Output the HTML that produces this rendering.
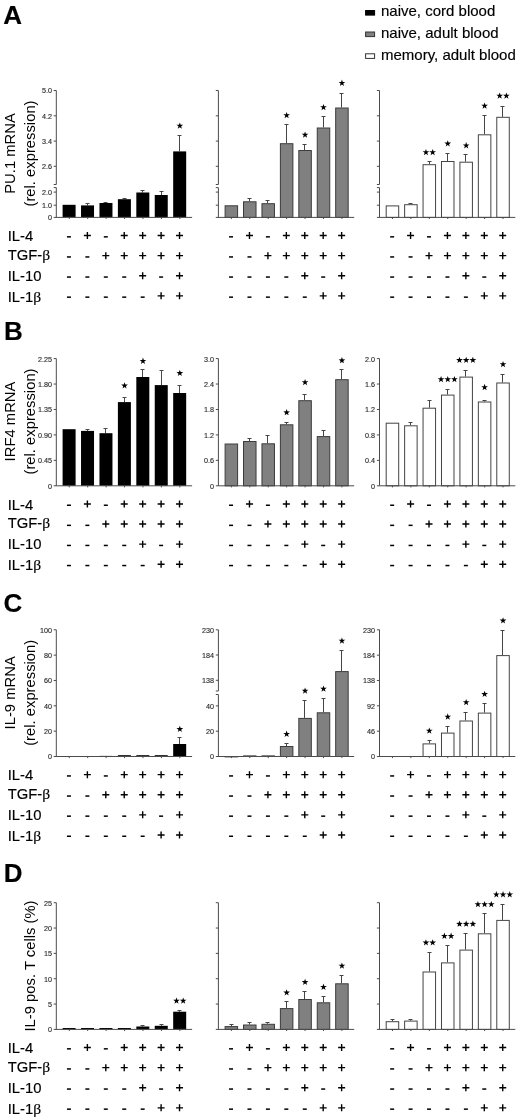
<!DOCTYPE html>
<html><head><meta charset="utf-8"><title>Figure</title>
<style>
html,body{margin:0;padding:0;background:#fff;}
body{width:520px;height:1120px;overflow:hidden;}
svg{display:block;font-family:"Liberation Sans",sans-serif;}
text{stroke:#000;stroke-width:0.16px;}
text.r{stroke:none;}
text.t{stroke:#333;stroke-width:0.15px;}
</style></head><body>
<svg width="520" height="1120" viewBox="0 0 520 1120">
<defs><filter id="soft" x="0" y="0" width="520" height="1120" filterUnits="userSpaceOnUse"><feGaussianBlur stdDeviation="0.38"/></filter></defs>
<rect width="520" height="1120" fill="#fff"/>
<g filter="url(#soft)">
<rect x="365.6" y="10.50" width="9" height="4.6" fill="#000" stroke="#000" stroke-width="1"/>
<rect x="365.6" y="32.00" width="9" height="4.6" fill="#808080" stroke="#333" stroke-width="1"/>
<rect x="365.6" y="53.80" width="9" height="4.6" fill="#fff" stroke="#333" stroke-width="1"/>
<text x="381" y="16.2" font-size="15" fill="#000">naive, cord blood</text>
<text x="381" y="37.7" font-size="15" fill="#000">naive, adult blood</text>
<text x="381" y="59.5" font-size="15" fill="#000">memory, adult blood</text>
<text x="3.2" y="23.6" font-size="26" font-weight="bold" fill="#000">A</text>
<rect x="62.60" y="204.80" width="13.00" height="12.60" fill="#000"/>
<path d="M87.50 205.40V203.50M85.50 203.50H89.50" stroke="#4a4a4a" stroke-width="1" fill="none"/>
<rect x="81.03" y="205.40" width="13.00" height="12.00" fill="#000"/>
<path d="M105.50 203.00V202.50M103.50 202.50H107.50" stroke="#4a4a4a" stroke-width="1" fill="none"/>
<rect x="99.46" y="203.00" width="13.00" height="14.40" fill="#000"/>
<path d="M124.50 199.20V198.50M122.50 198.50H126.50" stroke="#4a4a4a" stroke-width="1" fill="none"/>
<rect x="117.89" y="199.20" width="13.00" height="18.20" fill="#000"/>
<path d="M142.50 192.50V190.50M140.50 190.50H144.50" stroke="#4a4a4a" stroke-width="1" fill="none"/>
<rect x="136.32" y="192.50" width="13.00" height="24.90" fill="#000"/>
<path d="M161.50 195.00V191.50M159.50 191.50H163.50" stroke="#4a4a4a" stroke-width="1" fill="none"/>
<rect x="154.75" y="195.00" width="13.00" height="22.40" fill="#000"/>
<path d="M179.50 151.40V135.50M177.50 135.50H181.50" stroke="#4a4a4a" stroke-width="1" fill="none"/>
<rect x="173.18" y="151.40" width="13.00" height="66.00" fill="#000"/>
<path d="M56.30 90.50V184.50" stroke="#4c4c4c" stroke-width="1" fill="none"/>
<path d="M56.30 187.60V217.40" stroke="#4c4c4c" stroke-width="1" fill="none"/>
<path d="M53.70 217.40H192.10" stroke="#4c4c4c" stroke-width="1" fill="none"/>
<path d="M53.70 90.50H56.30" stroke="#4c4c4c" stroke-width="1" fill="none"/>
<path d="M53.70 115.80H56.30" stroke="#4c4c4c" stroke-width="1" fill="none"/>
<path d="M53.70 141.10H56.30" stroke="#4c4c4c" stroke-width="1" fill="none"/>
<path d="M53.70 166.30H56.30" stroke="#4c4c4c" stroke-width="1" fill="none"/>
<path d="M53.70 184.50H56.30" stroke="#4c4c4c" stroke-width="1" fill="none"/>
<path d="M53.70 187.60H56.30" stroke="#4c4c4c" stroke-width="1" fill="none"/>
<path d="M53.70 192.10H56.30" stroke="#4c4c4c" stroke-width="1" fill="none"/>
<path d="M53.70 205.20H56.30" stroke="#4c4c4c" stroke-width="1" fill="none"/>
<path d="M69.25 217.40v1.6" stroke="#4c4c4c" stroke-width="1" fill="none"/>
<path d="M87.68 217.40v1.6" stroke="#4c4c4c" stroke-width="1" fill="none"/>
<path d="M106.11 217.40v1.6" stroke="#4c4c4c" stroke-width="1" fill="none"/>
<path d="M124.54 217.40v1.6" stroke="#4c4c4c" stroke-width="1" fill="none"/>
<path d="M142.97 217.40v1.6" stroke="#4c4c4c" stroke-width="1" fill="none"/>
<path d="M161.40 217.40v1.6" stroke="#4c4c4c" stroke-width="1" fill="none"/>
<path d="M179.83 217.40v1.6" stroke="#4c4c4c" stroke-width="1" fill="none"/>
<text x="51.90" y="93.45" font-size="7.2" text-anchor="end" fill="#2a2a2a" class="t">5.0</text>
<text x="51.90" y="118.75" font-size="7.2" text-anchor="end" fill="#2a2a2a" class="t">4.2</text>
<text x="51.90" y="144.05" font-size="7.2" text-anchor="end" fill="#2a2a2a" class="t">3.4</text>
<text x="51.90" y="169.25" font-size="7.2" text-anchor="end" fill="#2a2a2a" class="t">2.6</text>
<text x="51.90" y="195.05" font-size="7.2" text-anchor="end" fill="#2a2a2a" class="t">2.0</text>
<text x="51.90" y="208.15" font-size="7.2" text-anchor="end" fill="#2a2a2a" class="t">1.0</text>
<text x="51.90" y="220.35" font-size="7.2" text-anchor="end" fill="#2a2a2a" class="t">0</text>
<polygon points="179.83,122.40 180.65,124.77 183.16,124.82 181.16,126.33 181.89,128.73 179.83,127.30 177.77,128.73 178.50,126.33 176.50,124.82 179.01,124.77" fill="#000"/>
<rect x="225.10" y="205.80" width="12.50" height="11.60" fill="#808080" stroke="#3c3c3c" stroke-width="1"/>
<path d="M249.50 201.30V198.50M247.50 198.50H251.50" stroke="#444" stroke-width="1" fill="none"/>
<rect x="243.53" y="201.80" width="12.50" height="15.60" fill="#808080" stroke="#3c3c3c" stroke-width="1"/>
<path d="M267.50 203.20V200.50M265.50 200.50H269.50" stroke="#444" stroke-width="1" fill="none"/>
<rect x="261.96" y="203.70" width="12.50" height="13.70" fill="#808080" stroke="#3c3c3c" stroke-width="1"/>
<path d="M286.50 143.20V124.50M284.50 124.50H288.50" stroke="#444" stroke-width="1" fill="none"/>
<rect x="280.39" y="143.70" width="12.50" height="73.70" fill="#808080" stroke="#3c3c3c" stroke-width="1"/>
<path d="M304.50 150.00V144.50M302.50 144.50H306.50" stroke="#444" stroke-width="1" fill="none"/>
<rect x="298.82" y="150.50" width="12.50" height="66.90" fill="#808080" stroke="#3c3c3c" stroke-width="1"/>
<path d="M323.50 127.50V116.50M321.50 116.50H325.50" stroke="#444" stroke-width="1" fill="none"/>
<rect x="317.25" y="128.00" width="12.50" height="89.40" fill="#808080" stroke="#3c3c3c" stroke-width="1"/>
<path d="M341.50 107.50V93.50M339.50 93.50H343.50" stroke="#444" stroke-width="1" fill="none"/>
<rect x="335.68" y="108.00" width="12.50" height="109.40" fill="#808080" stroke="#3c3c3c" stroke-width="1"/>
<path d="M218.40 90.50V184.50" stroke="#4c4c4c" stroke-width="1" fill="none"/>
<path d="M218.40 187.60V217.40" stroke="#4c4c4c" stroke-width="1" fill="none"/>
<path d="M215.80 217.40H354.20" stroke="#4c4c4c" stroke-width="1" fill="none"/>
<path d="M215.80 90.50H218.40" stroke="#4c4c4c" stroke-width="1" fill="none"/>
<path d="M215.80 115.80H218.40" stroke="#4c4c4c" stroke-width="1" fill="none"/>
<path d="M215.80 141.10H218.40" stroke="#4c4c4c" stroke-width="1" fill="none"/>
<path d="M215.80 166.30H218.40" stroke="#4c4c4c" stroke-width="1" fill="none"/>
<path d="M215.80 184.50H218.40" stroke="#4c4c4c" stroke-width="1" fill="none"/>
<path d="M215.80 187.60H218.40" stroke="#4c4c4c" stroke-width="1" fill="none"/>
<path d="M215.80 192.10H218.40" stroke="#4c4c4c" stroke-width="1" fill="none"/>
<path d="M215.80 205.20H218.40" stroke="#4c4c4c" stroke-width="1" fill="none"/>
<path d="M231.35 217.40v1.6" stroke="#4c4c4c" stroke-width="1" fill="none"/>
<path d="M249.78 217.40v1.6" stroke="#4c4c4c" stroke-width="1" fill="none"/>
<path d="M268.21 217.40v1.6" stroke="#4c4c4c" stroke-width="1" fill="none"/>
<path d="M286.64 217.40v1.6" stroke="#4c4c4c" stroke-width="1" fill="none"/>
<path d="M305.07 217.40v1.6" stroke="#4c4c4c" stroke-width="1" fill="none"/>
<path d="M323.50 217.40v1.6" stroke="#4c4c4c" stroke-width="1" fill="none"/>
<path d="M341.93 217.40v1.6" stroke="#4c4c4c" stroke-width="1" fill="none"/>
<polygon points="286.64,111.90 287.46,114.27 289.97,114.32 287.97,115.83 288.70,118.23 286.64,116.80 284.58,118.23 285.31,115.83 283.31,114.32 285.82,114.27" fill="#000"/>
<polygon points="305.07,131.40 305.89,133.77 308.40,133.82 306.40,135.33 307.13,137.73 305.07,136.30 303.01,137.73 303.74,135.33 301.74,133.82 304.25,133.77" fill="#000"/>
<polygon points="323.50,103.90 324.32,106.27 326.83,106.32 324.83,107.83 325.56,110.23 323.50,108.80 321.44,110.23 322.17,107.83 320.17,106.32 322.68,106.27" fill="#000"/>
<polygon points="341.93,79.60 342.75,81.97 345.26,82.02 343.26,83.53 343.99,85.93 341.93,84.50 339.87,85.93 340.60,83.53 338.60,82.02 341.11,81.97" fill="#000"/>
<rect x="386.20" y="205.90" width="12.50" height="11.50" fill="#ffffff" stroke="#444444" stroke-width="1"/>
<path d="M410.50 204.20V203.50M408.50 203.50H412.50" stroke="#444" stroke-width="1" fill="none"/>
<rect x="404.63" y="204.70" width="12.50" height="12.70" fill="#ffffff" stroke="#444444" stroke-width="1"/>
<path d="M429.50 164.20V161.50M427.50 161.50H431.50" stroke="#444" stroke-width="1" fill="none"/>
<rect x="423.06" y="164.70" width="12.50" height="52.70" fill="#ffffff" stroke="#444444" stroke-width="1"/>
<path d="M447.50 161.00V153.50M445.50 153.50H449.50" stroke="#444" stroke-width="1" fill="none"/>
<rect x="441.49" y="161.50" width="12.50" height="55.90" fill="#ffffff" stroke="#444444" stroke-width="1"/>
<path d="M465.50 161.70V154.50M463.50 154.50H467.50" stroke="#444" stroke-width="1" fill="none"/>
<rect x="459.92" y="162.20" width="12.50" height="55.20" fill="#ffffff" stroke="#444444" stroke-width="1"/>
<path d="M484.50 134.30V115.50M482.50 115.50H486.50" stroke="#444" stroke-width="1" fill="none"/>
<rect x="478.35" y="134.80" width="12.50" height="82.60" fill="#ffffff" stroke="#444444" stroke-width="1"/>
<path d="M502.50 116.80V106.50M500.50 106.50H504.50" stroke="#444" stroke-width="1" fill="none"/>
<rect x="496.78" y="117.30" width="12.50" height="100.10" fill="#ffffff" stroke="#444444" stroke-width="1"/>
<path d="M379.50 90.50V184.50" stroke="#4c4c4c" stroke-width="1" fill="none"/>
<path d="M379.50 187.60V217.40" stroke="#4c4c4c" stroke-width="1" fill="none"/>
<path d="M376.90 217.40H515.30" stroke="#4c4c4c" stroke-width="1" fill="none"/>
<path d="M376.90 90.50H379.50" stroke="#4c4c4c" stroke-width="1" fill="none"/>
<path d="M376.90 115.80H379.50" stroke="#4c4c4c" stroke-width="1" fill="none"/>
<path d="M376.90 141.10H379.50" stroke="#4c4c4c" stroke-width="1" fill="none"/>
<path d="M376.90 166.30H379.50" stroke="#4c4c4c" stroke-width="1" fill="none"/>
<path d="M376.90 184.50H379.50" stroke="#4c4c4c" stroke-width="1" fill="none"/>
<path d="M376.90 187.60H379.50" stroke="#4c4c4c" stroke-width="1" fill="none"/>
<path d="M376.90 192.10H379.50" stroke="#4c4c4c" stroke-width="1" fill="none"/>
<path d="M376.90 205.20H379.50" stroke="#4c4c4c" stroke-width="1" fill="none"/>
<path d="M392.45 217.40v1.6" stroke="#4c4c4c" stroke-width="1" fill="none"/>
<path d="M410.88 217.40v1.6" stroke="#4c4c4c" stroke-width="1" fill="none"/>
<path d="M429.31 217.40v1.6" stroke="#4c4c4c" stroke-width="1" fill="none"/>
<path d="M447.74 217.40v1.6" stroke="#4c4c4c" stroke-width="1" fill="none"/>
<path d="M466.17 217.40v1.6" stroke="#4c4c4c" stroke-width="1" fill="none"/>
<path d="M484.60 217.40v1.6" stroke="#4c4c4c" stroke-width="1" fill="none"/>
<path d="M503.03 217.40v1.6" stroke="#4c4c4c" stroke-width="1" fill="none"/>
<polygon points="425.96,148.90 426.78,151.27 429.29,151.32 427.29,152.83 428.02,155.23 425.96,153.80 423.90,155.23 424.63,152.83 422.63,151.32 425.14,151.27" fill="#000"/>
<polygon points="432.66,148.90 433.48,151.27 435.99,151.32 433.99,152.83 434.72,155.23 432.66,153.80 430.60,155.23 431.33,152.83 429.33,151.32 431.84,151.27" fill="#000"/>
<polygon points="447.74,140.20 448.56,142.57 451.07,142.62 449.07,144.13 449.80,146.53 447.74,145.10 445.68,146.53 446.41,144.13 444.41,142.62 446.92,142.57" fill="#000"/>
<polygon points="466.17,142.10 466.99,144.47 469.50,144.52 467.50,146.03 468.23,148.43 466.17,147.00 464.11,148.43 464.84,146.03 462.84,144.52 465.35,144.47" fill="#000"/>
<polygon points="484.60,102.40 485.42,104.77 487.93,104.82 485.93,106.33 486.66,108.73 484.60,107.30 482.54,108.73 483.27,106.33 481.27,104.82 483.78,104.77" fill="#000"/>
<polygon points="499.68,92.40 500.50,94.77 503.01,94.82 501.01,96.33 501.74,98.73 499.68,97.30 497.62,98.73 498.35,96.33 496.35,94.82 498.86,94.77" fill="#000"/>
<polygon points="506.38,92.40 507.20,94.77 509.71,94.82 507.71,96.33 508.44,98.73 506.38,97.30 504.32,98.73 505.05,96.33 503.05,94.82 505.56,94.77" fill="#000"/>
<text x="7.7" y="241.10" font-size="14.8" fill="#000">IL-4</text>
<path d="M66.95 236.85H70.95" stroke="#000" stroke-width="1.5" fill="none"/>
<path d="M83.88 235.55H90.88M87.38 232.05V239.05" stroke="#000" stroke-width="1.4" fill="none"/>
<path d="M103.81 236.85H107.81" stroke="#000" stroke-width="1.5" fill="none"/>
<path d="M120.74 235.55H127.74M124.24 232.05V239.05" stroke="#000" stroke-width="1.4" fill="none"/>
<path d="M139.17 235.55H146.17M142.67 232.05V239.05" stroke="#000" stroke-width="1.4" fill="none"/>
<path d="M157.60 235.55H164.60M161.10 232.05V239.05" stroke="#000" stroke-width="1.4" fill="none"/>
<path d="M176.03 235.55H183.03M179.53 232.05V239.05" stroke="#000" stroke-width="1.4" fill="none"/>
<path d="M229.05 236.85H233.05" stroke="#000" stroke-width="1.5" fill="none"/>
<path d="M245.98 235.55H252.98M249.48 232.05V239.05" stroke="#000" stroke-width="1.4" fill="none"/>
<path d="M265.91 236.85H269.91" stroke="#000" stroke-width="1.5" fill="none"/>
<path d="M282.84 235.55H289.84M286.34 232.05V239.05" stroke="#000" stroke-width="1.4" fill="none"/>
<path d="M301.27 235.55H308.27M304.77 232.05V239.05" stroke="#000" stroke-width="1.4" fill="none"/>
<path d="M319.70 235.55H326.70M323.20 232.05V239.05" stroke="#000" stroke-width="1.4" fill="none"/>
<path d="M338.13 235.55H345.13M341.63 232.05V239.05" stroke="#000" stroke-width="1.4" fill="none"/>
<path d="M390.15 236.85H394.15" stroke="#000" stroke-width="1.5" fill="none"/>
<path d="M407.08 235.55H414.08M410.58 232.05V239.05" stroke="#000" stroke-width="1.4" fill="none"/>
<path d="M427.01 236.85H431.01" stroke="#000" stroke-width="1.5" fill="none"/>
<path d="M443.94 235.55H450.94M447.44 232.05V239.05" stroke="#000" stroke-width="1.4" fill="none"/>
<path d="M462.37 235.55H469.37M465.87 232.05V239.05" stroke="#000" stroke-width="1.4" fill="none"/>
<path d="M480.80 235.55H487.80M484.30 232.05V239.05" stroke="#000" stroke-width="1.4" fill="none"/>
<path d="M499.23 235.55H506.23M502.73 232.05V239.05" stroke="#000" stroke-width="1.4" fill="none"/>
<text x="7.7" y="260.00" font-size="14.8" fill="#000">TGF-<tspan font-family="Liberation Serif" font-size="15.5">β</tspan></text>
<path d="M66.95 256.95H70.95" stroke="#000" stroke-width="1.5" fill="none"/>
<path d="M85.38 256.95H89.38" stroke="#000" stroke-width="1.5" fill="none"/>
<path d="M102.31 255.65H109.31M105.81 252.15V259.15" stroke="#000" stroke-width="1.4" fill="none"/>
<path d="M120.74 255.65H127.74M124.24 252.15V259.15" stroke="#000" stroke-width="1.4" fill="none"/>
<path d="M139.17 255.65H146.17M142.67 252.15V259.15" stroke="#000" stroke-width="1.4" fill="none"/>
<path d="M157.60 255.65H164.60M161.10 252.15V259.15" stroke="#000" stroke-width="1.4" fill="none"/>
<path d="M176.03 255.65H183.03M179.53 252.15V259.15" stroke="#000" stroke-width="1.4" fill="none"/>
<path d="M229.05 256.95H233.05" stroke="#000" stroke-width="1.5" fill="none"/>
<path d="M247.48 256.95H251.48" stroke="#000" stroke-width="1.5" fill="none"/>
<path d="M264.41 255.65H271.41M267.91 252.15V259.15" stroke="#000" stroke-width="1.4" fill="none"/>
<path d="M282.84 255.65H289.84M286.34 252.15V259.15" stroke="#000" stroke-width="1.4" fill="none"/>
<path d="M301.27 255.65H308.27M304.77 252.15V259.15" stroke="#000" stroke-width="1.4" fill="none"/>
<path d="M319.70 255.65H326.70M323.20 252.15V259.15" stroke="#000" stroke-width="1.4" fill="none"/>
<path d="M338.13 255.65H345.13M341.63 252.15V259.15" stroke="#000" stroke-width="1.4" fill="none"/>
<path d="M390.15 256.95H394.15" stroke="#000" stroke-width="1.5" fill="none"/>
<path d="M408.58 256.95H412.58" stroke="#000" stroke-width="1.5" fill="none"/>
<path d="M425.51 255.65H432.51M429.01 252.15V259.15" stroke="#000" stroke-width="1.4" fill="none"/>
<path d="M443.94 255.65H450.94M447.44 252.15V259.15" stroke="#000" stroke-width="1.4" fill="none"/>
<path d="M462.37 255.65H469.37M465.87 252.15V259.15" stroke="#000" stroke-width="1.4" fill="none"/>
<path d="M480.80 255.65H487.80M484.30 252.15V259.15" stroke="#000" stroke-width="1.4" fill="none"/>
<path d="M499.23 255.65H506.23M502.73 252.15V259.15" stroke="#000" stroke-width="1.4" fill="none"/>
<text x="7.7" y="281.00" font-size="14.8" fill="#000">IL-10</text>
<path d="M66.95 277.05H70.95" stroke="#000" stroke-width="1.5" fill="none"/>
<path d="M85.38 277.05H89.38" stroke="#000" stroke-width="1.5" fill="none"/>
<path d="M103.81 277.05H107.81" stroke="#000" stroke-width="1.5" fill="none"/>
<path d="M122.24 277.05H126.24" stroke="#000" stroke-width="1.5" fill="none"/>
<path d="M139.17 275.75H146.17M142.67 272.25V279.25" stroke="#000" stroke-width="1.4" fill="none"/>
<path d="M159.10 277.05H163.10" stroke="#000" stroke-width="1.5" fill="none"/>
<path d="M176.03 275.75H183.03M179.53 272.25V279.25" stroke="#000" stroke-width="1.4" fill="none"/>
<path d="M229.05 277.05H233.05" stroke="#000" stroke-width="1.5" fill="none"/>
<path d="M247.48 277.05H251.48" stroke="#000" stroke-width="1.5" fill="none"/>
<path d="M265.91 277.05H269.91" stroke="#000" stroke-width="1.5" fill="none"/>
<path d="M284.34 277.05H288.34" stroke="#000" stroke-width="1.5" fill="none"/>
<path d="M301.27 275.75H308.27M304.77 272.25V279.25" stroke="#000" stroke-width="1.4" fill="none"/>
<path d="M321.20 277.05H325.20" stroke="#000" stroke-width="1.5" fill="none"/>
<path d="M338.13 275.75H345.13M341.63 272.25V279.25" stroke="#000" stroke-width="1.4" fill="none"/>
<path d="M390.15 277.05H394.15" stroke="#000" stroke-width="1.5" fill="none"/>
<path d="M408.58 277.05H412.58" stroke="#000" stroke-width="1.5" fill="none"/>
<path d="M427.01 277.05H431.01" stroke="#000" stroke-width="1.5" fill="none"/>
<path d="M445.44 277.05H449.44" stroke="#000" stroke-width="1.5" fill="none"/>
<path d="M462.37 275.75H469.37M465.87 272.25V279.25" stroke="#000" stroke-width="1.4" fill="none"/>
<path d="M482.30 277.05H486.30" stroke="#000" stroke-width="1.5" fill="none"/>
<path d="M499.23 275.75H506.23M502.73 272.25V279.25" stroke="#000" stroke-width="1.4" fill="none"/>
<text x="7.7" y="301.60" font-size="14.8" fill="#000">IL-1<tspan font-family="Liberation Serif" font-size="15.5">β</tspan></text>
<path d="M66.95 297.15H70.95" stroke="#000" stroke-width="1.5" fill="none"/>
<path d="M85.38 297.15H89.38" stroke="#000" stroke-width="1.5" fill="none"/>
<path d="M103.81 297.15H107.81" stroke="#000" stroke-width="1.5" fill="none"/>
<path d="M122.24 297.15H126.24" stroke="#000" stroke-width="1.5" fill="none"/>
<path d="M140.67 297.15H144.67" stroke="#000" stroke-width="1.5" fill="none"/>
<path d="M157.60 295.85H164.60M161.10 292.35V299.35" stroke="#000" stroke-width="1.4" fill="none"/>
<path d="M176.03 295.85H183.03M179.53 292.35V299.35" stroke="#000" stroke-width="1.4" fill="none"/>
<path d="M229.05 297.15H233.05" stroke="#000" stroke-width="1.5" fill="none"/>
<path d="M247.48 297.15H251.48" stroke="#000" stroke-width="1.5" fill="none"/>
<path d="M265.91 297.15H269.91" stroke="#000" stroke-width="1.5" fill="none"/>
<path d="M284.34 297.15H288.34" stroke="#000" stroke-width="1.5" fill="none"/>
<path d="M302.77 297.15H306.77" stroke="#000" stroke-width="1.5" fill="none"/>
<path d="M319.70 295.85H326.70M323.20 292.35V299.35" stroke="#000" stroke-width="1.4" fill="none"/>
<path d="M338.13 295.85H345.13M341.63 292.35V299.35" stroke="#000" stroke-width="1.4" fill="none"/>
<path d="M390.15 297.15H394.15" stroke="#000" stroke-width="1.5" fill="none"/>
<path d="M408.58 297.15H412.58" stroke="#000" stroke-width="1.5" fill="none"/>
<path d="M427.01 297.15H431.01" stroke="#000" stroke-width="1.5" fill="none"/>
<path d="M445.44 297.15H449.44" stroke="#000" stroke-width="1.5" fill="none"/>
<path d="M463.87 297.15H467.87" stroke="#000" stroke-width="1.5" fill="none"/>
<path d="M480.80 295.85H487.80M484.30 292.35V299.35" stroke="#000" stroke-width="1.4" fill="none"/>
<path d="M499.23 295.85H506.23M502.73 292.35V299.35" stroke="#000" stroke-width="1.4" fill="none"/>
<text transform="translate(15 153.50) rotate(-90)" font-size="14.8" text-anchor="middle" fill="#000" class="r">PU.1 mRNA</text>
<text transform="translate(34.7 153.50) rotate(-90)" font-size="14.8" text-anchor="middle" fill="#000" class="r">(rel. expression)</text>
<text x="4.0" y="339.8" font-size="26" font-weight="bold" fill="#000">B</text>
<rect x="62.60" y="429.20" width="13.00" height="56.60" fill="#000"/>
<path d="M87.50 430.90V429.50M85.50 429.50H89.50" stroke="#4a4a4a" stroke-width="1" fill="none"/>
<rect x="81.03" y="430.90" width="13.00" height="54.90" fill="#000"/>
<path d="M105.50 433.20V428.50M103.50 428.50H107.50" stroke="#4a4a4a" stroke-width="1" fill="none"/>
<rect x="99.46" y="433.20" width="13.00" height="52.60" fill="#000"/>
<path d="M124.50 402.10V397.50M122.50 397.50H126.50" stroke="#4a4a4a" stroke-width="1" fill="none"/>
<rect x="117.89" y="402.10" width="13.00" height="83.70" fill="#000"/>
<path d="M142.50 377.00V369.50M140.50 369.50H144.50" stroke="#4a4a4a" stroke-width="1" fill="none"/>
<rect x="136.32" y="377.00" width="13.00" height="108.80" fill="#000"/>
<path d="M161.50 385.10V370.50M159.50 370.50H163.50" stroke="#4a4a4a" stroke-width="1" fill="none"/>
<rect x="154.75" y="385.10" width="13.00" height="100.70" fill="#000"/>
<path d="M179.50 393.00V385.50M177.50 385.50H181.50" stroke="#4a4a4a" stroke-width="1" fill="none"/>
<rect x="173.18" y="393.00" width="13.00" height="92.80" fill="#000"/>
<path d="M56.30 358.60V485.80" stroke="#4c4c4c" stroke-width="1" fill="none"/>
<path d="M53.70 485.80H192.10" stroke="#4c4c4c" stroke-width="1" fill="none"/>
<path d="M53.70 358.60H56.30" stroke="#4c4c4c" stroke-width="1" fill="none"/>
<path d="M53.70 384.04H56.30" stroke="#4c4c4c" stroke-width="1" fill="none"/>
<path d="M53.70 409.48H56.30" stroke="#4c4c4c" stroke-width="1" fill="none"/>
<path d="M53.70 434.92H56.30" stroke="#4c4c4c" stroke-width="1" fill="none"/>
<path d="M53.70 460.36H56.30" stroke="#4c4c4c" stroke-width="1" fill="none"/>
<path d="M69.25 485.80v1.6" stroke="#4c4c4c" stroke-width="1" fill="none"/>
<path d="M87.68 485.80v1.6" stroke="#4c4c4c" stroke-width="1" fill="none"/>
<path d="M106.11 485.80v1.6" stroke="#4c4c4c" stroke-width="1" fill="none"/>
<path d="M124.54 485.80v1.6" stroke="#4c4c4c" stroke-width="1" fill="none"/>
<path d="M142.97 485.80v1.6" stroke="#4c4c4c" stroke-width="1" fill="none"/>
<path d="M161.40 485.80v1.6" stroke="#4c4c4c" stroke-width="1" fill="none"/>
<path d="M179.83 485.80v1.6" stroke="#4c4c4c" stroke-width="1" fill="none"/>
<text x="51.90" y="361.55" font-size="7.2" text-anchor="end" fill="#2a2a2a" class="t">2.25</text>
<text x="51.90" y="386.99" font-size="7.2" text-anchor="end" fill="#2a2a2a" class="t">1.80</text>
<text x="51.90" y="412.43" font-size="7.2" text-anchor="end" fill="#2a2a2a" class="t">1.35</text>
<text x="51.90" y="437.87" font-size="7.2" text-anchor="end" fill="#2a2a2a" class="t">0.90</text>
<text x="51.90" y="463.31" font-size="7.2" text-anchor="end" fill="#2a2a2a" class="t">0.45</text>
<text x="51.90" y="488.75" font-size="7.2" text-anchor="end" fill="#2a2a2a" class="t">0</text>
<polygon points="124.54,382.20 125.36,384.57 127.87,384.62 125.87,386.13 126.60,388.53 124.54,387.10 122.48,388.53 123.21,386.13 121.21,384.62 123.72,384.57" fill="#000"/>
<polygon points="142.97,357.60 143.79,359.97 146.30,360.02 144.30,361.53 145.03,363.93 142.97,362.50 140.91,363.93 141.64,361.53 139.64,360.02 142.15,359.97" fill="#000"/>
<polygon points="179.83,369.70 180.65,372.07 183.16,372.12 181.16,373.63 181.89,376.03 179.83,374.60 177.77,376.03 178.50,373.63 176.50,372.12 179.01,372.07" fill="#000"/>
<rect x="225.10" y="444.00" width="12.50" height="41.80" fill="#808080" stroke="#3c3c3c" stroke-width="1"/>
<path d="M249.50 441.00V438.50M247.50 438.50H251.50" stroke="#444" stroke-width="1" fill="none"/>
<rect x="243.53" y="441.50" width="12.50" height="44.30" fill="#808080" stroke="#3c3c3c" stroke-width="1"/>
<path d="M267.50 443.30V435.50M265.50 435.50H269.50" stroke="#444" stroke-width="1" fill="none"/>
<rect x="261.96" y="443.80" width="12.50" height="42.00" fill="#808080" stroke="#3c3c3c" stroke-width="1"/>
<path d="M286.50 424.30V422.50M284.50 422.50H288.50" stroke="#444" stroke-width="1" fill="none"/>
<rect x="280.39" y="424.80" width="12.50" height="61.00" fill="#808080" stroke="#3c3c3c" stroke-width="1"/>
<path d="M304.50 400.20V394.50M302.50 394.50H306.50" stroke="#444" stroke-width="1" fill="none"/>
<rect x="298.82" y="400.70" width="12.50" height="85.10" fill="#808080" stroke="#3c3c3c" stroke-width="1"/>
<path d="M323.50 436.10V430.50M321.50 430.50H325.50" stroke="#444" stroke-width="1" fill="none"/>
<rect x="317.25" y="436.60" width="12.50" height="49.20" fill="#808080" stroke="#3c3c3c" stroke-width="1"/>
<path d="M341.50 379.20V369.50M339.50 369.50H343.50" stroke="#444" stroke-width="1" fill="none"/>
<rect x="335.68" y="379.70" width="12.50" height="106.10" fill="#808080" stroke="#3c3c3c" stroke-width="1"/>
<path d="M218.40 358.60V485.80" stroke="#4c4c4c" stroke-width="1" fill="none"/>
<path d="M215.80 485.80H354.20" stroke="#4c4c4c" stroke-width="1" fill="none"/>
<path d="M215.80 358.60H218.40" stroke="#4c4c4c" stroke-width="1" fill="none"/>
<path d="M215.80 384.04H218.40" stroke="#4c4c4c" stroke-width="1" fill="none"/>
<path d="M215.80 409.48H218.40" stroke="#4c4c4c" stroke-width="1" fill="none"/>
<path d="M215.80 434.92H218.40" stroke="#4c4c4c" stroke-width="1" fill="none"/>
<path d="M215.80 460.36H218.40" stroke="#4c4c4c" stroke-width="1" fill="none"/>
<path d="M231.35 485.80v1.6" stroke="#4c4c4c" stroke-width="1" fill="none"/>
<path d="M249.78 485.80v1.6" stroke="#4c4c4c" stroke-width="1" fill="none"/>
<path d="M268.21 485.80v1.6" stroke="#4c4c4c" stroke-width="1" fill="none"/>
<path d="M286.64 485.80v1.6" stroke="#4c4c4c" stroke-width="1" fill="none"/>
<path d="M305.07 485.80v1.6" stroke="#4c4c4c" stroke-width="1" fill="none"/>
<path d="M323.50 485.80v1.6" stroke="#4c4c4c" stroke-width="1" fill="none"/>
<path d="M341.93 485.80v1.6" stroke="#4c4c4c" stroke-width="1" fill="none"/>
<text x="214.00" y="361.55" font-size="7.2" text-anchor="end" fill="#2a2a2a" class="t">3.0</text>
<text x="214.00" y="386.99" font-size="7.2" text-anchor="end" fill="#2a2a2a" class="t">2.4</text>
<text x="214.00" y="412.43" font-size="7.2" text-anchor="end" fill="#2a2a2a" class="t">1.8</text>
<text x="214.00" y="437.87" font-size="7.2" text-anchor="end" fill="#2a2a2a" class="t">1.2</text>
<text x="214.00" y="463.31" font-size="7.2" text-anchor="end" fill="#2a2a2a" class="t">0.6</text>
<text x="214.00" y="488.75" font-size="7.2" text-anchor="end" fill="#2a2a2a" class="t">0</text>
<polygon points="286.64,409.00 287.46,411.37 289.97,411.42 287.97,412.93 288.70,415.33 286.64,413.90 284.58,415.33 285.31,412.93 283.31,411.42 285.82,411.37" fill="#000"/>
<polygon points="305.07,378.90 305.89,381.27 308.40,381.32 306.40,382.83 307.13,385.23 305.07,383.80 303.01,385.23 303.74,382.83 301.74,381.32 304.25,381.27" fill="#000"/>
<polygon points="341.93,357.00 342.75,359.37 345.26,359.42 343.26,360.93 343.99,363.33 341.93,361.90 339.87,363.33 340.60,360.93 338.60,359.42 341.11,359.37" fill="#000"/>
<rect x="386.20" y="423.20" width="12.50" height="62.60" fill="#ffffff" stroke="#444444" stroke-width="1"/>
<path d="M410.50 425.30V422.50M408.50 422.50H412.50" stroke="#444" stroke-width="1" fill="none"/>
<rect x="404.63" y="425.80" width="12.50" height="60.00" fill="#ffffff" stroke="#444444" stroke-width="1"/>
<path d="M429.50 407.70V400.50M427.50 400.50H431.50" stroke="#444" stroke-width="1" fill="none"/>
<rect x="423.06" y="408.20" width="12.50" height="77.60" fill="#ffffff" stroke="#444444" stroke-width="1"/>
<path d="M447.50 394.60V389.50M445.50 389.50H449.50" stroke="#444" stroke-width="1" fill="none"/>
<rect x="441.49" y="395.10" width="12.50" height="90.70" fill="#ffffff" stroke="#444444" stroke-width="1"/>
<path d="M465.50 376.60V370.50M463.50 370.50H467.50" stroke="#444" stroke-width="1" fill="none"/>
<rect x="459.92" y="377.10" width="12.50" height="108.70" fill="#ffffff" stroke="#444444" stroke-width="1"/>
<path d="M484.50 401.50V400.50M482.50 400.50H486.50" stroke="#444" stroke-width="1" fill="none"/>
<rect x="478.35" y="402.00" width="12.50" height="83.80" fill="#ffffff" stroke="#444444" stroke-width="1"/>
<path d="M502.50 382.50V374.50M500.50 374.50H504.50" stroke="#444" stroke-width="1" fill="none"/>
<rect x="496.78" y="383.00" width="12.50" height="102.80" fill="#ffffff" stroke="#444444" stroke-width="1"/>
<path d="M379.50 358.60V485.80" stroke="#4c4c4c" stroke-width="1" fill="none"/>
<path d="M376.90 485.80H515.30" stroke="#4c4c4c" stroke-width="1" fill="none"/>
<path d="M376.90 358.60H379.50" stroke="#4c4c4c" stroke-width="1" fill="none"/>
<path d="M376.90 384.04H379.50" stroke="#4c4c4c" stroke-width="1" fill="none"/>
<path d="M376.90 409.48H379.50" stroke="#4c4c4c" stroke-width="1" fill="none"/>
<path d="M376.90 434.92H379.50" stroke="#4c4c4c" stroke-width="1" fill="none"/>
<path d="M376.90 460.36H379.50" stroke="#4c4c4c" stroke-width="1" fill="none"/>
<path d="M392.45 485.80v1.6" stroke="#4c4c4c" stroke-width="1" fill="none"/>
<path d="M410.88 485.80v1.6" stroke="#4c4c4c" stroke-width="1" fill="none"/>
<path d="M429.31 485.80v1.6" stroke="#4c4c4c" stroke-width="1" fill="none"/>
<path d="M447.74 485.80v1.6" stroke="#4c4c4c" stroke-width="1" fill="none"/>
<path d="M466.17 485.80v1.6" stroke="#4c4c4c" stroke-width="1" fill="none"/>
<path d="M484.60 485.80v1.6" stroke="#4c4c4c" stroke-width="1" fill="none"/>
<path d="M503.03 485.80v1.6" stroke="#4c4c4c" stroke-width="1" fill="none"/>
<text x="375.10" y="361.55" font-size="7.2" text-anchor="end" fill="#2a2a2a" class="t">2.0</text>
<text x="375.10" y="386.99" font-size="7.2" text-anchor="end" fill="#2a2a2a" class="t">1.6</text>
<text x="375.10" y="412.43" font-size="7.2" text-anchor="end" fill="#2a2a2a" class="t">1.2</text>
<text x="375.10" y="437.87" font-size="7.2" text-anchor="end" fill="#2a2a2a" class="t">0.8</text>
<text x="375.10" y="463.31" font-size="7.2" text-anchor="end" fill="#2a2a2a" class="t">0.4</text>
<text x="375.10" y="488.75" font-size="7.2" text-anchor="end" fill="#2a2a2a" class="t">0</text>
<polygon points="441.04,375.90 441.86,378.27 444.37,378.32 442.37,379.83 443.10,382.23 441.04,380.80 438.98,382.23 439.71,379.83 437.71,378.32 440.22,378.27" fill="#000"/>
<polygon points="447.74,375.90 448.56,378.27 451.07,378.32 449.07,379.83 449.80,382.23 447.74,380.80 445.68,382.23 446.41,379.83 444.41,378.32 446.92,378.27" fill="#000"/>
<polygon points="454.44,375.90 455.26,378.27 457.77,378.32 455.77,379.83 456.50,382.23 454.44,380.80 452.38,382.23 453.11,379.83 451.11,378.32 453.62,378.27" fill="#000"/>
<polygon points="459.47,356.70 460.29,359.07 462.80,359.12 460.80,360.63 461.53,363.03 459.47,361.60 457.41,363.03 458.14,360.63 456.14,359.12 458.65,359.07" fill="#000"/>
<polygon points="466.17,356.70 466.99,359.07 469.50,359.12 467.50,360.63 468.23,363.03 466.17,361.60 464.11,363.03 464.84,360.63 462.84,359.12 465.35,359.07" fill="#000"/>
<polygon points="472.87,356.70 473.69,359.07 476.20,359.12 474.20,360.63 474.93,363.03 472.87,361.60 470.81,363.03 471.54,360.63 469.54,359.12 472.05,359.07" fill="#000"/>
<polygon points="484.60,383.80 485.42,386.17 487.93,386.22 485.93,387.73 486.66,390.13 484.60,388.70 482.54,390.13 483.27,387.73 481.27,386.22 483.78,386.17" fill="#000"/>
<polygon points="503.03,360.90 503.85,363.27 506.36,363.32 504.36,364.83 505.09,367.23 503.03,365.80 500.97,367.23 501.70,364.83 499.70,363.32 502.21,363.27" fill="#000"/>
<text x="7.7" y="509.50" font-size="14.8" fill="#000">IL-4</text>
<path d="M66.95 505.25H70.95" stroke="#000" stroke-width="1.5" fill="none"/>
<path d="M83.88 503.95H90.88M87.38 500.45V507.45" stroke="#000" stroke-width="1.4" fill="none"/>
<path d="M103.81 505.25H107.81" stroke="#000" stroke-width="1.5" fill="none"/>
<path d="M120.74 503.95H127.74M124.24 500.45V507.45" stroke="#000" stroke-width="1.4" fill="none"/>
<path d="M139.17 503.95H146.17M142.67 500.45V507.45" stroke="#000" stroke-width="1.4" fill="none"/>
<path d="M157.60 503.95H164.60M161.10 500.45V507.45" stroke="#000" stroke-width="1.4" fill="none"/>
<path d="M176.03 503.95H183.03M179.53 500.45V507.45" stroke="#000" stroke-width="1.4" fill="none"/>
<path d="M229.05 505.25H233.05" stroke="#000" stroke-width="1.5" fill="none"/>
<path d="M245.98 503.95H252.98M249.48 500.45V507.45" stroke="#000" stroke-width="1.4" fill="none"/>
<path d="M265.91 505.25H269.91" stroke="#000" stroke-width="1.5" fill="none"/>
<path d="M282.84 503.95H289.84M286.34 500.45V507.45" stroke="#000" stroke-width="1.4" fill="none"/>
<path d="M301.27 503.95H308.27M304.77 500.45V507.45" stroke="#000" stroke-width="1.4" fill="none"/>
<path d="M319.70 503.95H326.70M323.20 500.45V507.45" stroke="#000" stroke-width="1.4" fill="none"/>
<path d="M338.13 503.95H345.13M341.63 500.45V507.45" stroke="#000" stroke-width="1.4" fill="none"/>
<path d="M390.15 505.25H394.15" stroke="#000" stroke-width="1.5" fill="none"/>
<path d="M407.08 503.95H414.08M410.58 500.45V507.45" stroke="#000" stroke-width="1.4" fill="none"/>
<path d="M427.01 505.25H431.01" stroke="#000" stroke-width="1.5" fill="none"/>
<path d="M443.94 503.95H450.94M447.44 500.45V507.45" stroke="#000" stroke-width="1.4" fill="none"/>
<path d="M462.37 503.95H469.37M465.87 500.45V507.45" stroke="#000" stroke-width="1.4" fill="none"/>
<path d="M480.80 503.95H487.80M484.30 500.45V507.45" stroke="#000" stroke-width="1.4" fill="none"/>
<path d="M499.23 503.95H506.23M502.73 500.45V507.45" stroke="#000" stroke-width="1.4" fill="none"/>
<text x="7.7" y="528.40" font-size="14.8" fill="#000">TGF-<tspan font-family="Liberation Serif" font-size="15.5">β</tspan></text>
<path d="M66.95 525.35H70.95" stroke="#000" stroke-width="1.5" fill="none"/>
<path d="M85.38 525.35H89.38" stroke="#000" stroke-width="1.5" fill="none"/>
<path d="M102.31 524.05H109.31M105.81 520.55V527.55" stroke="#000" stroke-width="1.4" fill="none"/>
<path d="M120.74 524.05H127.74M124.24 520.55V527.55" stroke="#000" stroke-width="1.4" fill="none"/>
<path d="M139.17 524.05H146.17M142.67 520.55V527.55" stroke="#000" stroke-width="1.4" fill="none"/>
<path d="M157.60 524.05H164.60M161.10 520.55V527.55" stroke="#000" stroke-width="1.4" fill="none"/>
<path d="M176.03 524.05H183.03M179.53 520.55V527.55" stroke="#000" stroke-width="1.4" fill="none"/>
<path d="M229.05 525.35H233.05" stroke="#000" stroke-width="1.5" fill="none"/>
<path d="M247.48 525.35H251.48" stroke="#000" stroke-width="1.5" fill="none"/>
<path d="M264.41 524.05H271.41M267.91 520.55V527.55" stroke="#000" stroke-width="1.4" fill="none"/>
<path d="M282.84 524.05H289.84M286.34 520.55V527.55" stroke="#000" stroke-width="1.4" fill="none"/>
<path d="M301.27 524.05H308.27M304.77 520.55V527.55" stroke="#000" stroke-width="1.4" fill="none"/>
<path d="M319.70 524.05H326.70M323.20 520.55V527.55" stroke="#000" stroke-width="1.4" fill="none"/>
<path d="M338.13 524.05H345.13M341.63 520.55V527.55" stroke="#000" stroke-width="1.4" fill="none"/>
<path d="M390.15 525.35H394.15" stroke="#000" stroke-width="1.5" fill="none"/>
<path d="M408.58 525.35H412.58" stroke="#000" stroke-width="1.5" fill="none"/>
<path d="M425.51 524.05H432.51M429.01 520.55V527.55" stroke="#000" stroke-width="1.4" fill="none"/>
<path d="M443.94 524.05H450.94M447.44 520.55V527.55" stroke="#000" stroke-width="1.4" fill="none"/>
<path d="M462.37 524.05H469.37M465.87 520.55V527.55" stroke="#000" stroke-width="1.4" fill="none"/>
<path d="M480.80 524.05H487.80M484.30 520.55V527.55" stroke="#000" stroke-width="1.4" fill="none"/>
<path d="M499.23 524.05H506.23M502.73 520.55V527.55" stroke="#000" stroke-width="1.4" fill="none"/>
<text x="7.7" y="549.40" font-size="14.8" fill="#000">IL-10</text>
<path d="M66.95 545.45H70.95" stroke="#000" stroke-width="1.5" fill="none"/>
<path d="M85.38 545.45H89.38" stroke="#000" stroke-width="1.5" fill="none"/>
<path d="M103.81 545.45H107.81" stroke="#000" stroke-width="1.5" fill="none"/>
<path d="M122.24 545.45H126.24" stroke="#000" stroke-width="1.5" fill="none"/>
<path d="M139.17 544.15H146.17M142.67 540.65V547.65" stroke="#000" stroke-width="1.4" fill="none"/>
<path d="M159.10 545.45H163.10" stroke="#000" stroke-width="1.5" fill="none"/>
<path d="M176.03 544.15H183.03M179.53 540.65V547.65" stroke="#000" stroke-width="1.4" fill="none"/>
<path d="M229.05 545.45H233.05" stroke="#000" stroke-width="1.5" fill="none"/>
<path d="M247.48 545.45H251.48" stroke="#000" stroke-width="1.5" fill="none"/>
<path d="M265.91 545.45H269.91" stroke="#000" stroke-width="1.5" fill="none"/>
<path d="M284.34 545.45H288.34" stroke="#000" stroke-width="1.5" fill="none"/>
<path d="M301.27 544.15H308.27M304.77 540.65V547.65" stroke="#000" stroke-width="1.4" fill="none"/>
<path d="M321.20 545.45H325.20" stroke="#000" stroke-width="1.5" fill="none"/>
<path d="M338.13 544.15H345.13M341.63 540.65V547.65" stroke="#000" stroke-width="1.4" fill="none"/>
<path d="M390.15 545.45H394.15" stroke="#000" stroke-width="1.5" fill="none"/>
<path d="M408.58 545.45H412.58" stroke="#000" stroke-width="1.5" fill="none"/>
<path d="M427.01 545.45H431.01" stroke="#000" stroke-width="1.5" fill="none"/>
<path d="M445.44 545.45H449.44" stroke="#000" stroke-width="1.5" fill="none"/>
<path d="M462.37 544.15H469.37M465.87 540.65V547.65" stroke="#000" stroke-width="1.4" fill="none"/>
<path d="M482.30 545.45H486.30" stroke="#000" stroke-width="1.5" fill="none"/>
<path d="M499.23 544.15H506.23M502.73 540.65V547.65" stroke="#000" stroke-width="1.4" fill="none"/>
<text x="7.7" y="570.00" font-size="14.8" fill="#000">IL-1<tspan font-family="Liberation Serif" font-size="15.5">β</tspan></text>
<path d="M66.95 565.55H70.95" stroke="#000" stroke-width="1.5" fill="none"/>
<path d="M85.38 565.55H89.38" stroke="#000" stroke-width="1.5" fill="none"/>
<path d="M103.81 565.55H107.81" stroke="#000" stroke-width="1.5" fill="none"/>
<path d="M122.24 565.55H126.24" stroke="#000" stroke-width="1.5" fill="none"/>
<path d="M140.67 565.55H144.67" stroke="#000" stroke-width="1.5" fill="none"/>
<path d="M157.60 564.25H164.60M161.10 560.75V567.75" stroke="#000" stroke-width="1.4" fill="none"/>
<path d="M176.03 564.25H183.03M179.53 560.75V567.75" stroke="#000" stroke-width="1.4" fill="none"/>
<path d="M229.05 565.55H233.05" stroke="#000" stroke-width="1.5" fill="none"/>
<path d="M247.48 565.55H251.48" stroke="#000" stroke-width="1.5" fill="none"/>
<path d="M265.91 565.55H269.91" stroke="#000" stroke-width="1.5" fill="none"/>
<path d="M284.34 565.55H288.34" stroke="#000" stroke-width="1.5" fill="none"/>
<path d="M302.77 565.55H306.77" stroke="#000" stroke-width="1.5" fill="none"/>
<path d="M319.70 564.25H326.70M323.20 560.75V567.75" stroke="#000" stroke-width="1.4" fill="none"/>
<path d="M338.13 564.25H345.13M341.63 560.75V567.75" stroke="#000" stroke-width="1.4" fill="none"/>
<path d="M390.15 565.55H394.15" stroke="#000" stroke-width="1.5" fill="none"/>
<path d="M408.58 565.55H412.58" stroke="#000" stroke-width="1.5" fill="none"/>
<path d="M427.01 565.55H431.01" stroke="#000" stroke-width="1.5" fill="none"/>
<path d="M445.44 565.55H449.44" stroke="#000" stroke-width="1.5" fill="none"/>
<path d="M463.87 565.55H467.87" stroke="#000" stroke-width="1.5" fill="none"/>
<path d="M480.80 564.25H487.80M484.30 560.75V567.75" stroke="#000" stroke-width="1.4" fill="none"/>
<path d="M499.23 564.25H506.23M502.73 560.75V567.75" stroke="#000" stroke-width="1.4" fill="none"/>
<text transform="translate(15 421.50) rotate(-90)" font-size="14.8" text-anchor="middle" fill="#000" class="r">IRF4 mRNA</text>
<text transform="translate(34.7 421.50) rotate(-90)" font-size="14.8" text-anchor="middle" fill="#000" class="r">(rel. expression)</text>
<text x="3.6" y="612.2" font-size="26" font-weight="bold" fill="#000">C</text>
<rect x="62.60" y="756.00" width="13.00" height="0.50" fill="#000"/>
<rect x="81.03" y="756.00" width="13.00" height="0.50" fill="#000"/>
<rect x="99.46" y="755.90" width="13.00" height="0.60" fill="#000"/>
<rect x="117.89" y="755.20" width="13.00" height="1.30" fill="#000"/>
<rect x="136.32" y="755.20" width="13.00" height="1.30" fill="#000"/>
<rect x="154.75" y="755.20" width="13.00" height="1.30" fill="#000"/>
<path d="M179.50 744.00V737.50M177.50 737.50H181.50" stroke="#4a4a4a" stroke-width="1" fill="none"/>
<rect x="173.18" y="744.00" width="13.00" height="12.50" fill="#000"/>
<path d="M56.30 629.80V756.50" stroke="#4c4c4c" stroke-width="1" fill="none"/>
<path d="M53.70 756.50H192.10" stroke="#4c4c4c" stroke-width="1" fill="none"/>
<path d="M53.70 629.80H56.30" stroke="#4c4c4c" stroke-width="1" fill="none"/>
<path d="M53.70 655.14H56.30" stroke="#4c4c4c" stroke-width="1" fill="none"/>
<path d="M53.70 680.48H56.30" stroke="#4c4c4c" stroke-width="1" fill="none"/>
<path d="M53.70 705.82H56.30" stroke="#4c4c4c" stroke-width="1" fill="none"/>
<path d="M53.70 731.16H56.30" stroke="#4c4c4c" stroke-width="1" fill="none"/>
<path d="M69.25 756.50v1.6" stroke="#4c4c4c" stroke-width="1" fill="none"/>
<path d="M87.68 756.50v1.6" stroke="#4c4c4c" stroke-width="1" fill="none"/>
<path d="M106.11 756.50v1.6" stroke="#4c4c4c" stroke-width="1" fill="none"/>
<path d="M124.54 756.50v1.6" stroke="#4c4c4c" stroke-width="1" fill="none"/>
<path d="M142.97 756.50v1.6" stroke="#4c4c4c" stroke-width="1" fill="none"/>
<path d="M161.40 756.50v1.6" stroke="#4c4c4c" stroke-width="1" fill="none"/>
<path d="M179.83 756.50v1.6" stroke="#4c4c4c" stroke-width="1" fill="none"/>
<text x="51.90" y="632.75" font-size="7.2" text-anchor="end" fill="#2a2a2a" class="t">100</text>
<text x="51.90" y="658.09" font-size="7.2" text-anchor="end" fill="#2a2a2a" class="t">80</text>
<text x="51.90" y="683.43" font-size="7.2" text-anchor="end" fill="#2a2a2a" class="t">60</text>
<text x="51.90" y="708.77" font-size="7.2" text-anchor="end" fill="#2a2a2a" class="t">40</text>
<text x="51.90" y="734.11" font-size="7.2" text-anchor="end" fill="#2a2a2a" class="t">20</text>
<text x="51.90" y="759.45" font-size="7.2" text-anchor="end" fill="#2a2a2a" class="t">0</text>
<polygon points="179.83,725.70 180.65,728.07 183.16,728.12 181.16,729.63 181.89,732.03 179.83,730.60 177.77,732.03 178.50,729.63 176.50,728.12 179.01,728.07" fill="#000"/>
<rect x="225.10" y="756.60" width="12.50" height="0.30" fill="#808080" stroke="#3c3c3c" stroke-width="1"/>
<rect x="243.53" y="755.90" width="12.50" height="0.60" fill="#808080" stroke="#3c3c3c" stroke-width="1"/>
<rect x="261.96" y="755.90" width="12.50" height="0.60" fill="#808080" stroke="#3c3c3c" stroke-width="1"/>
<path d="M286.50 746.00V743.50M284.50 743.50H288.50" stroke="#444" stroke-width="1" fill="none"/>
<rect x="280.39" y="746.50" width="12.50" height="10.00" fill="#808080" stroke="#3c3c3c" stroke-width="1"/>
<path d="M304.50 717.90V700.50M302.50 700.50H306.50" stroke="#444" stroke-width="1" fill="none"/>
<rect x="298.82" y="718.40" width="12.50" height="38.10" fill="#808080" stroke="#3c3c3c" stroke-width="1"/>
<path d="M323.50 712.30V698.50M321.50 698.50H325.50" stroke="#444" stroke-width="1" fill="none"/>
<rect x="317.25" y="712.80" width="12.50" height="43.70" fill="#808080" stroke="#3c3c3c" stroke-width="1"/>
<path d="M341.50 671.10V650.50M339.50 650.50H343.50" stroke="#444" stroke-width="1" fill="none"/>
<rect x="335.68" y="671.60" width="12.50" height="84.90" fill="#808080" stroke="#3c3c3c" stroke-width="1"/>
<path d="M218.40 629.80V691.00" stroke="#4c4c4c" stroke-width="1" fill="none"/>
<path d="M218.40 694.50V756.50" stroke="#4c4c4c" stroke-width="1" fill="none"/>
<path d="M215.80 756.50H354.20" stroke="#4c4c4c" stroke-width="1" fill="none"/>
<path d="M215.80 629.80H218.40" stroke="#4c4c4c" stroke-width="1" fill="none"/>
<path d="M215.80 655.00H218.40" stroke="#4c4c4c" stroke-width="1" fill="none"/>
<path d="M215.80 680.30H218.40" stroke="#4c4c4c" stroke-width="1" fill="none"/>
<path d="M215.80 691.00H218.40" stroke="#4c4c4c" stroke-width="1" fill="none"/>
<path d="M215.80 694.50H218.40" stroke="#4c4c4c" stroke-width="1" fill="none"/>
<path d="M215.80 705.90H218.40" stroke="#4c4c4c" stroke-width="1" fill="none"/>
<path d="M215.80 731.20H218.40" stroke="#4c4c4c" stroke-width="1" fill="none"/>
<path d="M231.35 756.50v1.6" stroke="#4c4c4c" stroke-width="1" fill="none"/>
<path d="M249.78 756.50v1.6" stroke="#4c4c4c" stroke-width="1" fill="none"/>
<path d="M268.21 756.50v1.6" stroke="#4c4c4c" stroke-width="1" fill="none"/>
<path d="M286.64 756.50v1.6" stroke="#4c4c4c" stroke-width="1" fill="none"/>
<path d="M305.07 756.50v1.6" stroke="#4c4c4c" stroke-width="1" fill="none"/>
<path d="M323.50 756.50v1.6" stroke="#4c4c4c" stroke-width="1" fill="none"/>
<path d="M341.93 756.50v1.6" stroke="#4c4c4c" stroke-width="1" fill="none"/>
<text x="214.00" y="632.75" font-size="7.2" text-anchor="end" fill="#2a2a2a" class="t">230</text>
<text x="214.00" y="657.95" font-size="7.2" text-anchor="end" fill="#2a2a2a" class="t">184</text>
<text x="214.00" y="683.25" font-size="7.2" text-anchor="end" fill="#2a2a2a" class="t">138</text>
<text x="214.00" y="708.85" font-size="7.2" text-anchor="end" fill="#2a2a2a" class="t">40</text>
<text x="214.00" y="734.15" font-size="7.2" text-anchor="end" fill="#2a2a2a" class="t">20</text>
<text x="214.00" y="759.45" font-size="7.2" text-anchor="end" fill="#2a2a2a" class="t">0</text>
<polygon points="286.64,730.60 287.46,732.97 289.97,733.02 287.97,734.53 288.70,736.93 286.64,735.50 284.58,736.93 285.31,734.53 283.31,733.02 285.82,732.97" fill="#000"/>
<polygon points="305.07,687.40 305.89,689.77 308.40,689.82 306.40,691.33 307.13,693.73 305.07,692.30 303.01,693.73 303.74,691.33 301.74,689.82 304.25,689.77" fill="#000"/>
<polygon points="323.50,685.40 324.32,687.77 326.83,687.82 324.83,689.33 325.56,691.73 323.50,690.30 321.44,691.73 322.17,689.33 320.17,687.82 322.68,687.77" fill="#000"/>
<polygon points="341.93,637.40 342.75,639.77 345.26,639.82 343.26,641.33 343.99,643.73 341.93,642.30 339.87,643.73 340.60,641.33 338.60,639.82 341.11,639.77" fill="#000"/>
<path d="M429.50 743.40V740.50M427.50 740.50H431.50" stroke="#444" stroke-width="1" fill="none"/>
<rect x="423.06" y="743.90" width="12.50" height="12.60" fill="#ffffff" stroke="#444444" stroke-width="1"/>
<path d="M447.50 732.60V726.50M445.50 726.50H449.50" stroke="#444" stroke-width="1" fill="none"/>
<rect x="441.49" y="733.10" width="12.50" height="23.40" fill="#ffffff" stroke="#444444" stroke-width="1"/>
<path d="M465.50 720.50V712.50M463.50 712.50H467.50" stroke="#444" stroke-width="1" fill="none"/>
<rect x="459.92" y="721.00" width="12.50" height="35.50" fill="#ffffff" stroke="#444444" stroke-width="1"/>
<path d="M484.50 712.60V703.50M482.50 703.50H486.50" stroke="#444" stroke-width="1" fill="none"/>
<rect x="478.35" y="713.10" width="12.50" height="43.40" fill="#ffffff" stroke="#444444" stroke-width="1"/>
<path d="M502.50 655.10V630.50M500.50 630.50H504.50" stroke="#444" stroke-width="1" fill="none"/>
<rect x="496.78" y="655.60" width="12.50" height="100.90" fill="#ffffff" stroke="#444444" stroke-width="1"/>
<path d="M379.50 629.80V756.50" stroke="#4c4c4c" stroke-width="1" fill="none"/>
<path d="M376.90 756.50H515.30" stroke="#4c4c4c" stroke-width="1" fill="none"/>
<path d="M376.90 629.80H379.50" stroke="#4c4c4c" stroke-width="1" fill="none"/>
<path d="M376.90 655.14H379.50" stroke="#4c4c4c" stroke-width="1" fill="none"/>
<path d="M376.90 680.48H379.50" stroke="#4c4c4c" stroke-width="1" fill="none"/>
<path d="M376.90 705.82H379.50" stroke="#4c4c4c" stroke-width="1" fill="none"/>
<path d="M376.90 731.16H379.50" stroke="#4c4c4c" stroke-width="1" fill="none"/>
<path d="M392.45 756.50v1.6" stroke="#4c4c4c" stroke-width="1" fill="none"/>
<path d="M410.88 756.50v1.6" stroke="#4c4c4c" stroke-width="1" fill="none"/>
<path d="M429.31 756.50v1.6" stroke="#4c4c4c" stroke-width="1" fill="none"/>
<path d="M447.74 756.50v1.6" stroke="#4c4c4c" stroke-width="1" fill="none"/>
<path d="M466.17 756.50v1.6" stroke="#4c4c4c" stroke-width="1" fill="none"/>
<path d="M484.60 756.50v1.6" stroke="#4c4c4c" stroke-width="1" fill="none"/>
<path d="M503.03 756.50v1.6" stroke="#4c4c4c" stroke-width="1" fill="none"/>
<text x="375.10" y="632.75" font-size="7.2" text-anchor="end" fill="#2a2a2a" class="t">230</text>
<text x="375.10" y="658.09" font-size="7.2" text-anchor="end" fill="#2a2a2a" class="t">184</text>
<text x="375.10" y="683.43" font-size="7.2" text-anchor="end" fill="#2a2a2a" class="t">138</text>
<text x="375.10" y="708.77" font-size="7.2" text-anchor="end" fill="#2a2a2a" class="t">92</text>
<text x="375.10" y="734.11" font-size="7.2" text-anchor="end" fill="#2a2a2a" class="t">46</text>
<text x="375.10" y="759.45" font-size="7.2" text-anchor="end" fill="#2a2a2a" class="t">0</text>
<polygon points="429.31,727.40 430.13,729.77 432.64,729.82 430.64,731.33 431.37,733.73 429.31,732.30 427.25,733.73 427.98,731.33 425.98,729.82 428.49,729.77" fill="#000"/>
<polygon points="447.74,713.30 448.56,715.67 451.07,715.72 449.07,717.23 449.80,719.63 447.74,718.20 445.68,719.63 446.41,717.23 444.41,715.72 446.92,715.67" fill="#000"/>
<polygon points="466.17,698.90 466.99,701.27 469.50,701.32 467.50,702.83 468.23,705.23 466.17,703.80 464.11,705.23 464.84,702.83 462.84,701.32 465.35,701.27" fill="#000"/>
<polygon points="484.60,690.70 485.42,693.07 487.93,693.12 485.93,694.63 486.66,697.03 484.60,695.60 482.54,697.03 483.27,694.63 481.27,693.12 483.78,693.07" fill="#000"/>
<polygon points="503.03,617.20 503.85,619.57 506.36,619.62 504.36,621.13 505.09,623.53 503.03,622.10 500.97,623.53 501.70,621.13 499.70,619.62 502.21,619.57" fill="#000"/>
<text x="7.7" y="780.20" font-size="14.8" fill="#000">IL-4</text>
<path d="M66.95 775.95H70.95" stroke="#000" stroke-width="1.5" fill="none"/>
<path d="M83.88 774.65H90.88M87.38 771.15V778.15" stroke="#000" stroke-width="1.4" fill="none"/>
<path d="M103.81 775.95H107.81" stroke="#000" stroke-width="1.5" fill="none"/>
<path d="M120.74 774.65H127.74M124.24 771.15V778.15" stroke="#000" stroke-width="1.4" fill="none"/>
<path d="M139.17 774.65H146.17M142.67 771.15V778.15" stroke="#000" stroke-width="1.4" fill="none"/>
<path d="M157.60 774.65H164.60M161.10 771.15V778.15" stroke="#000" stroke-width="1.4" fill="none"/>
<path d="M176.03 774.65H183.03M179.53 771.15V778.15" stroke="#000" stroke-width="1.4" fill="none"/>
<path d="M229.05 775.95H233.05" stroke="#000" stroke-width="1.5" fill="none"/>
<path d="M245.98 774.65H252.98M249.48 771.15V778.15" stroke="#000" stroke-width="1.4" fill="none"/>
<path d="M265.91 775.95H269.91" stroke="#000" stroke-width="1.5" fill="none"/>
<path d="M282.84 774.65H289.84M286.34 771.15V778.15" stroke="#000" stroke-width="1.4" fill="none"/>
<path d="M301.27 774.65H308.27M304.77 771.15V778.15" stroke="#000" stroke-width="1.4" fill="none"/>
<path d="M319.70 774.65H326.70M323.20 771.15V778.15" stroke="#000" stroke-width="1.4" fill="none"/>
<path d="M338.13 774.65H345.13M341.63 771.15V778.15" stroke="#000" stroke-width="1.4" fill="none"/>
<path d="M390.15 775.95H394.15" stroke="#000" stroke-width="1.5" fill="none"/>
<path d="M407.08 774.65H414.08M410.58 771.15V778.15" stroke="#000" stroke-width="1.4" fill="none"/>
<path d="M427.01 775.95H431.01" stroke="#000" stroke-width="1.5" fill="none"/>
<path d="M443.94 774.65H450.94M447.44 771.15V778.15" stroke="#000" stroke-width="1.4" fill="none"/>
<path d="M462.37 774.65H469.37M465.87 771.15V778.15" stroke="#000" stroke-width="1.4" fill="none"/>
<path d="M480.80 774.65H487.80M484.30 771.15V778.15" stroke="#000" stroke-width="1.4" fill="none"/>
<path d="M499.23 774.65H506.23M502.73 771.15V778.15" stroke="#000" stroke-width="1.4" fill="none"/>
<text x="7.7" y="799.10" font-size="14.8" fill="#000">TGF-<tspan font-family="Liberation Serif" font-size="15.5">β</tspan></text>
<path d="M66.95 796.05H70.95" stroke="#000" stroke-width="1.5" fill="none"/>
<path d="M85.38 796.05H89.38" stroke="#000" stroke-width="1.5" fill="none"/>
<path d="M102.31 794.75H109.31M105.81 791.25V798.25" stroke="#000" stroke-width="1.4" fill="none"/>
<path d="M120.74 794.75H127.74M124.24 791.25V798.25" stroke="#000" stroke-width="1.4" fill="none"/>
<path d="M139.17 794.75H146.17M142.67 791.25V798.25" stroke="#000" stroke-width="1.4" fill="none"/>
<path d="M157.60 794.75H164.60M161.10 791.25V798.25" stroke="#000" stroke-width="1.4" fill="none"/>
<path d="M176.03 794.75H183.03M179.53 791.25V798.25" stroke="#000" stroke-width="1.4" fill="none"/>
<path d="M229.05 796.05H233.05" stroke="#000" stroke-width="1.5" fill="none"/>
<path d="M247.48 796.05H251.48" stroke="#000" stroke-width="1.5" fill="none"/>
<path d="M264.41 794.75H271.41M267.91 791.25V798.25" stroke="#000" stroke-width="1.4" fill="none"/>
<path d="M282.84 794.75H289.84M286.34 791.25V798.25" stroke="#000" stroke-width="1.4" fill="none"/>
<path d="M301.27 794.75H308.27M304.77 791.25V798.25" stroke="#000" stroke-width="1.4" fill="none"/>
<path d="M319.70 794.75H326.70M323.20 791.25V798.25" stroke="#000" stroke-width="1.4" fill="none"/>
<path d="M338.13 794.75H345.13M341.63 791.25V798.25" stroke="#000" stroke-width="1.4" fill="none"/>
<path d="M390.15 796.05H394.15" stroke="#000" stroke-width="1.5" fill="none"/>
<path d="M408.58 796.05H412.58" stroke="#000" stroke-width="1.5" fill="none"/>
<path d="M425.51 794.75H432.51M429.01 791.25V798.25" stroke="#000" stroke-width="1.4" fill="none"/>
<path d="M443.94 794.75H450.94M447.44 791.25V798.25" stroke="#000" stroke-width="1.4" fill="none"/>
<path d="M462.37 794.75H469.37M465.87 791.25V798.25" stroke="#000" stroke-width="1.4" fill="none"/>
<path d="M480.80 794.75H487.80M484.30 791.25V798.25" stroke="#000" stroke-width="1.4" fill="none"/>
<path d="M499.23 794.75H506.23M502.73 791.25V798.25" stroke="#000" stroke-width="1.4" fill="none"/>
<text x="7.7" y="820.10" font-size="14.8" fill="#000">IL-10</text>
<path d="M66.95 816.15H70.95" stroke="#000" stroke-width="1.5" fill="none"/>
<path d="M85.38 816.15H89.38" stroke="#000" stroke-width="1.5" fill="none"/>
<path d="M103.81 816.15H107.81" stroke="#000" stroke-width="1.5" fill="none"/>
<path d="M122.24 816.15H126.24" stroke="#000" stroke-width="1.5" fill="none"/>
<path d="M139.17 814.85H146.17M142.67 811.35V818.35" stroke="#000" stroke-width="1.4" fill="none"/>
<path d="M159.10 816.15H163.10" stroke="#000" stroke-width="1.5" fill="none"/>
<path d="M176.03 814.85H183.03M179.53 811.35V818.35" stroke="#000" stroke-width="1.4" fill="none"/>
<path d="M229.05 816.15H233.05" stroke="#000" stroke-width="1.5" fill="none"/>
<path d="M247.48 816.15H251.48" stroke="#000" stroke-width="1.5" fill="none"/>
<path d="M265.91 816.15H269.91" stroke="#000" stroke-width="1.5" fill="none"/>
<path d="M284.34 816.15H288.34" stroke="#000" stroke-width="1.5" fill="none"/>
<path d="M301.27 814.85H308.27M304.77 811.35V818.35" stroke="#000" stroke-width="1.4" fill="none"/>
<path d="M321.20 816.15H325.20" stroke="#000" stroke-width="1.5" fill="none"/>
<path d="M338.13 814.85H345.13M341.63 811.35V818.35" stroke="#000" stroke-width="1.4" fill="none"/>
<path d="M390.15 816.15H394.15" stroke="#000" stroke-width="1.5" fill="none"/>
<path d="M408.58 816.15H412.58" stroke="#000" stroke-width="1.5" fill="none"/>
<path d="M427.01 816.15H431.01" stroke="#000" stroke-width="1.5" fill="none"/>
<path d="M445.44 816.15H449.44" stroke="#000" stroke-width="1.5" fill="none"/>
<path d="M462.37 814.85H469.37M465.87 811.35V818.35" stroke="#000" stroke-width="1.4" fill="none"/>
<path d="M482.30 816.15H486.30" stroke="#000" stroke-width="1.5" fill="none"/>
<path d="M499.23 814.85H506.23M502.73 811.35V818.35" stroke="#000" stroke-width="1.4" fill="none"/>
<text x="7.7" y="840.70" font-size="14.8" fill="#000">IL-1<tspan font-family="Liberation Serif" font-size="15.5">β</tspan></text>
<path d="M66.95 836.25H70.95" stroke="#000" stroke-width="1.5" fill="none"/>
<path d="M85.38 836.25H89.38" stroke="#000" stroke-width="1.5" fill="none"/>
<path d="M103.81 836.25H107.81" stroke="#000" stroke-width="1.5" fill="none"/>
<path d="M122.24 836.25H126.24" stroke="#000" stroke-width="1.5" fill="none"/>
<path d="M140.67 836.25H144.67" stroke="#000" stroke-width="1.5" fill="none"/>
<path d="M157.60 834.95H164.60M161.10 831.45V838.45" stroke="#000" stroke-width="1.4" fill="none"/>
<path d="M176.03 834.95H183.03M179.53 831.45V838.45" stroke="#000" stroke-width="1.4" fill="none"/>
<path d="M229.05 836.25H233.05" stroke="#000" stroke-width="1.5" fill="none"/>
<path d="M247.48 836.25H251.48" stroke="#000" stroke-width="1.5" fill="none"/>
<path d="M265.91 836.25H269.91" stroke="#000" stroke-width="1.5" fill="none"/>
<path d="M284.34 836.25H288.34" stroke="#000" stroke-width="1.5" fill="none"/>
<path d="M302.77 836.25H306.77" stroke="#000" stroke-width="1.5" fill="none"/>
<path d="M319.70 834.95H326.70M323.20 831.45V838.45" stroke="#000" stroke-width="1.4" fill="none"/>
<path d="M338.13 834.95H345.13M341.63 831.45V838.45" stroke="#000" stroke-width="1.4" fill="none"/>
<path d="M390.15 836.25H394.15" stroke="#000" stroke-width="1.5" fill="none"/>
<path d="M408.58 836.25H412.58" stroke="#000" stroke-width="1.5" fill="none"/>
<path d="M427.01 836.25H431.01" stroke="#000" stroke-width="1.5" fill="none"/>
<path d="M445.44 836.25H449.44" stroke="#000" stroke-width="1.5" fill="none"/>
<path d="M463.87 836.25H467.87" stroke="#000" stroke-width="1.5" fill="none"/>
<path d="M480.80 834.95H487.80M484.30 831.45V838.45" stroke="#000" stroke-width="1.4" fill="none"/>
<path d="M499.23 834.95H506.23M502.73 831.45V838.45" stroke="#000" stroke-width="1.4" fill="none"/>
<text transform="translate(15 692.80) rotate(-90)" font-size="14.8" text-anchor="middle" fill="#000" class="r">IL-9 mRNA</text>
<text transform="translate(34.7 692.80) rotate(-90)" font-size="14.8" text-anchor="middle" fill="#000" class="r">(rel. expression)</text>
<text x="3.8" y="882.0" font-size="26" font-weight="bold" fill="#000">D</text>
<rect x="62.60" y="1028.00" width="13.00" height="1.40" fill="#000"/>
<rect x="81.03" y="1028.00" width="13.00" height="1.40" fill="#000"/>
<rect x="99.46" y="1028.00" width="13.00" height="1.40" fill="#000"/>
<rect x="117.89" y="1028.00" width="13.00" height="1.40" fill="#000"/>
<path d="M142.50 1026.50V1025.50M140.50 1025.50H144.50" stroke="#4a4a4a" stroke-width="1" fill="none"/>
<rect x="136.32" y="1026.50" width="13.00" height="2.90" fill="#000"/>
<path d="M161.50 1025.80V1024.50M159.50 1024.50H163.50" stroke="#4a4a4a" stroke-width="1" fill="none"/>
<rect x="154.75" y="1025.80" width="13.00" height="3.60" fill="#000"/>
<path d="M179.50 1011.70V1010.50M177.50 1010.50H181.50" stroke="#4a4a4a" stroke-width="1" fill="none"/>
<rect x="173.18" y="1011.70" width="13.00" height="17.70" fill="#000"/>
<path d="M56.30 902.70V1029.40" stroke="#4c4c4c" stroke-width="1" fill="none"/>
<path d="M53.70 1029.40H192.10" stroke="#4c4c4c" stroke-width="1" fill="none"/>
<path d="M53.70 902.70H56.30" stroke="#4c4c4c" stroke-width="1" fill="none"/>
<path d="M53.70 928.04H56.30" stroke="#4c4c4c" stroke-width="1" fill="none"/>
<path d="M53.70 953.38H56.30" stroke="#4c4c4c" stroke-width="1" fill="none"/>
<path d="M53.70 978.72H56.30" stroke="#4c4c4c" stroke-width="1" fill="none"/>
<path d="M53.70 1004.06H56.30" stroke="#4c4c4c" stroke-width="1" fill="none"/>
<path d="M69.25 1029.40v1.6" stroke="#4c4c4c" stroke-width="1" fill="none"/>
<path d="M87.68 1029.40v1.6" stroke="#4c4c4c" stroke-width="1" fill="none"/>
<path d="M106.11 1029.40v1.6" stroke="#4c4c4c" stroke-width="1" fill="none"/>
<path d="M124.54 1029.40v1.6" stroke="#4c4c4c" stroke-width="1" fill="none"/>
<path d="M142.97 1029.40v1.6" stroke="#4c4c4c" stroke-width="1" fill="none"/>
<path d="M161.40 1029.40v1.6" stroke="#4c4c4c" stroke-width="1" fill="none"/>
<path d="M179.83 1029.40v1.6" stroke="#4c4c4c" stroke-width="1" fill="none"/>
<text x="51.90" y="905.65" font-size="7.2" text-anchor="end" fill="#2a2a2a" class="t">25</text>
<text x="51.90" y="930.99" font-size="7.2" text-anchor="end" fill="#2a2a2a" class="t">20</text>
<text x="51.90" y="956.33" font-size="7.2" text-anchor="end" fill="#2a2a2a" class="t">15</text>
<text x="51.90" y="981.67" font-size="7.2" text-anchor="end" fill="#2a2a2a" class="t">10</text>
<text x="51.90" y="1007.01" font-size="7.2" text-anchor="end" fill="#2a2a2a" class="t">5</text>
<text x="51.90" y="1032.35" font-size="7.2" text-anchor="end" fill="#2a2a2a" class="t">0</text>
<polygon points="176.48,997.40 177.30,999.77 179.81,999.82 177.81,1001.33 178.54,1003.73 176.48,1002.30 174.42,1003.73 175.15,1001.33 173.15,999.82 175.66,999.77" fill="#000"/>
<polygon points="183.18,997.40 184.00,999.77 186.51,999.82 184.51,1001.33 185.24,1003.73 183.18,1002.30 181.12,1003.73 181.85,1001.33 179.85,999.82 182.36,999.77" fill="#000"/>
<path d="M231.50 1026.10V1024.50M229.50 1024.50H233.50" stroke="#444" stroke-width="1" fill="none"/>
<rect x="225.10" y="1026.60" width="12.50" height="2.80" fill="#808080" stroke="#3c3c3c" stroke-width="1"/>
<path d="M249.50 1024.50V1022.50M247.50 1022.50H251.50" stroke="#444" stroke-width="1" fill="none"/>
<rect x="243.53" y="1025.00" width="12.50" height="4.40" fill="#808080" stroke="#3c3c3c" stroke-width="1"/>
<path d="M267.50 1023.80V1022.50M265.50 1022.50H269.50" stroke="#444" stroke-width="1" fill="none"/>
<rect x="261.96" y="1024.30" width="12.50" height="5.10" fill="#808080" stroke="#3c3c3c" stroke-width="1"/>
<path d="M286.50 1008.10V1001.50M284.50 1001.50H288.50" stroke="#444" stroke-width="1" fill="none"/>
<rect x="280.39" y="1008.60" width="12.50" height="20.80" fill="#808080" stroke="#3c3c3c" stroke-width="1"/>
<path d="M304.50 999.00V991.50M302.50 991.50H306.50" stroke="#444" stroke-width="1" fill="none"/>
<rect x="298.82" y="999.50" width="12.50" height="29.90" fill="#808080" stroke="#3c3c3c" stroke-width="1"/>
<path d="M323.50 1002.30V996.50M321.50 996.50H325.50" stroke="#444" stroke-width="1" fill="none"/>
<rect x="317.25" y="1002.80" width="12.50" height="26.60" fill="#808080" stroke="#3c3c3c" stroke-width="1"/>
<path d="M341.50 983.30V975.50M339.50 975.50H343.50" stroke="#444" stroke-width="1" fill="none"/>
<rect x="335.68" y="983.80" width="12.50" height="45.60" fill="#808080" stroke="#3c3c3c" stroke-width="1"/>
<path d="M218.40 902.70V1029.40" stroke="#4c4c4c" stroke-width="1" fill="none"/>
<path d="M215.80 1029.40H354.20" stroke="#4c4c4c" stroke-width="1" fill="none"/>
<path d="M215.80 902.70H218.40" stroke="#4c4c4c" stroke-width="1" fill="none"/>
<path d="M215.80 928.04H218.40" stroke="#4c4c4c" stroke-width="1" fill="none"/>
<path d="M215.80 953.38H218.40" stroke="#4c4c4c" stroke-width="1" fill="none"/>
<path d="M215.80 978.72H218.40" stroke="#4c4c4c" stroke-width="1" fill="none"/>
<path d="M215.80 1004.06H218.40" stroke="#4c4c4c" stroke-width="1" fill="none"/>
<path d="M231.35 1029.40v1.6" stroke="#4c4c4c" stroke-width="1" fill="none"/>
<path d="M249.78 1029.40v1.6" stroke="#4c4c4c" stroke-width="1" fill="none"/>
<path d="M268.21 1029.40v1.6" stroke="#4c4c4c" stroke-width="1" fill="none"/>
<path d="M286.64 1029.40v1.6" stroke="#4c4c4c" stroke-width="1" fill="none"/>
<path d="M305.07 1029.40v1.6" stroke="#4c4c4c" stroke-width="1" fill="none"/>
<path d="M323.50 1029.40v1.6" stroke="#4c4c4c" stroke-width="1" fill="none"/>
<path d="M341.93 1029.40v1.6" stroke="#4c4c4c" stroke-width="1" fill="none"/>
<polygon points="286.64,989.20 287.46,991.57 289.97,991.62 287.97,993.13 288.70,995.53 286.64,994.10 284.58,995.53 285.31,993.13 283.31,991.62 285.82,991.57" fill="#000"/>
<polygon points="305.07,978.70 305.89,981.07 308.40,981.12 306.40,982.63 307.13,985.03 305.07,983.60 303.01,985.03 303.74,982.63 301.74,981.12 304.25,981.07" fill="#000"/>
<polygon points="323.50,983.60 324.32,985.97 326.83,986.02 324.83,987.53 325.56,989.93 323.50,988.50 321.44,989.93 322.17,987.53 320.17,986.02 322.68,985.97" fill="#000"/>
<polygon points="341.93,962.40 342.75,964.77 345.26,964.82 343.26,966.33 343.99,968.73 341.93,967.30 339.87,968.73 340.60,966.33 338.60,964.82 341.11,964.77" fill="#000"/>
<path d="M392.50 1021.20V1019.50M390.50 1019.50H394.50" stroke="#444" stroke-width="1" fill="none"/>
<rect x="386.20" y="1021.70" width="12.50" height="7.70" fill="#ffffff" stroke="#444444" stroke-width="1"/>
<path d="M410.50 1020.60V1019.50M408.50 1019.50H412.50" stroke="#444" stroke-width="1" fill="none"/>
<rect x="404.63" y="1021.10" width="12.50" height="8.30" fill="#ffffff" stroke="#444444" stroke-width="1"/>
<path d="M429.50 971.50V952.50M427.50 952.50H431.50" stroke="#444" stroke-width="1" fill="none"/>
<rect x="423.06" y="972.00" width="12.50" height="57.40" fill="#ffffff" stroke="#444444" stroke-width="1"/>
<path d="M447.50 962.40V945.50M445.50 945.50H449.50" stroke="#444" stroke-width="1" fill="none"/>
<rect x="441.49" y="962.90" width="12.50" height="66.50" fill="#ffffff" stroke="#444444" stroke-width="1"/>
<path d="M465.50 949.60V933.50M463.50 933.50H467.50" stroke="#444" stroke-width="1" fill="none"/>
<rect x="459.92" y="950.10" width="12.50" height="79.30" fill="#ffffff" stroke="#444444" stroke-width="1"/>
<path d="M484.50 933.30V913.50M482.50 913.50H486.50" stroke="#444" stroke-width="1" fill="none"/>
<rect x="478.35" y="933.80" width="12.50" height="95.60" fill="#ffffff" stroke="#444444" stroke-width="1"/>
<path d="M502.50 919.90V904.50M500.50 904.50H504.50" stroke="#444" stroke-width="1" fill="none"/>
<rect x="496.78" y="920.40" width="12.50" height="109.00" fill="#ffffff" stroke="#444444" stroke-width="1"/>
<path d="M379.50 902.70V1029.40" stroke="#4c4c4c" stroke-width="1" fill="none"/>
<path d="M376.90 1029.40H515.30" stroke="#4c4c4c" stroke-width="1" fill="none"/>
<path d="M376.90 902.70H379.50" stroke="#4c4c4c" stroke-width="1" fill="none"/>
<path d="M376.90 928.04H379.50" stroke="#4c4c4c" stroke-width="1" fill="none"/>
<path d="M376.90 953.38H379.50" stroke="#4c4c4c" stroke-width="1" fill="none"/>
<path d="M376.90 978.72H379.50" stroke="#4c4c4c" stroke-width="1" fill="none"/>
<path d="M376.90 1004.06H379.50" stroke="#4c4c4c" stroke-width="1" fill="none"/>
<path d="M392.45 1029.40v1.6" stroke="#4c4c4c" stroke-width="1" fill="none"/>
<path d="M410.88 1029.40v1.6" stroke="#4c4c4c" stroke-width="1" fill="none"/>
<path d="M429.31 1029.40v1.6" stroke="#4c4c4c" stroke-width="1" fill="none"/>
<path d="M447.74 1029.40v1.6" stroke="#4c4c4c" stroke-width="1" fill="none"/>
<path d="M466.17 1029.40v1.6" stroke="#4c4c4c" stroke-width="1" fill="none"/>
<path d="M484.60 1029.40v1.6" stroke="#4c4c4c" stroke-width="1" fill="none"/>
<path d="M503.03 1029.40v1.6" stroke="#4c4c4c" stroke-width="1" fill="none"/>
<polygon points="425.96,939.20 426.78,941.57 429.29,941.62 427.29,943.13 428.02,945.53 425.96,944.10 423.90,945.53 424.63,943.13 422.63,941.62 425.14,941.57" fill="#000"/>
<polygon points="432.66,939.20 433.48,941.57 435.99,941.62 433.99,943.13 434.72,945.53 432.66,944.10 430.60,945.53 431.33,943.13 429.33,941.62 431.84,941.57" fill="#000"/>
<polygon points="444.39,932.60 445.21,934.97 447.72,935.02 445.72,936.53 446.45,938.93 444.39,937.50 442.33,938.93 443.06,936.53 441.06,935.02 443.57,934.97" fill="#000"/>
<polygon points="451.09,932.60 451.91,934.97 454.42,935.02 452.42,936.53 453.15,938.93 451.09,937.50 449.03,938.93 449.76,936.53 447.76,935.02 450.27,934.97" fill="#000"/>
<polygon points="459.47,920.50 460.29,922.87 462.80,922.92 460.80,924.43 461.53,926.83 459.47,925.40 457.41,926.83 458.14,924.43 456.14,922.92 458.65,922.87" fill="#000"/>
<polygon points="466.17,920.50 466.99,922.87 469.50,922.92 467.50,924.43 468.23,926.83 466.17,925.40 464.11,926.83 464.84,924.43 462.84,922.92 465.35,922.87" fill="#000"/>
<polygon points="472.87,920.50 473.69,922.87 476.20,922.92 474.20,924.43 474.93,926.83 472.87,925.40 470.81,926.83 471.54,924.43 469.54,922.92 472.05,922.87" fill="#000"/>
<polygon points="477.90,900.90 478.72,903.27 481.23,903.32 479.23,904.83 479.96,907.23 477.90,905.80 475.84,907.23 476.57,904.83 474.57,903.32 477.08,903.27" fill="#000"/>
<polygon points="484.60,900.90 485.42,903.27 487.93,903.32 485.93,904.83 486.66,907.23 484.60,905.80 482.54,907.23 483.27,904.83 481.27,903.32 483.78,903.27" fill="#000"/>
<polygon points="491.30,900.90 492.12,903.27 494.63,903.32 492.63,904.83 493.36,907.23 491.30,905.80 489.24,907.23 489.97,904.83 487.97,903.32 490.48,903.27" fill="#000"/>
<polygon points="496.33,891.10 497.15,893.47 499.66,893.52 497.66,895.03 498.39,897.43 496.33,896.00 494.27,897.43 495.00,895.03 493.00,893.52 495.51,893.47" fill="#000"/>
<polygon points="503.03,891.10 503.85,893.47 506.36,893.52 504.36,895.03 505.09,897.43 503.03,896.00 500.97,897.43 501.70,895.03 499.70,893.52 502.21,893.47" fill="#000"/>
<polygon points="509.73,891.10 510.55,893.47 513.06,893.52 511.06,895.03 511.79,897.43 509.73,896.00 507.67,897.43 508.40,895.03 506.40,893.52 508.91,893.47" fill="#000"/>
<text x="7.7" y="1053.10" font-size="14.8" fill="#000">IL-4</text>
<path d="M66.95 1048.85H70.95" stroke="#000" stroke-width="1.5" fill="none"/>
<path d="M83.88 1047.55H90.88M87.38 1044.05V1051.05" stroke="#000" stroke-width="1.4" fill="none"/>
<path d="M103.81 1048.85H107.81" stroke="#000" stroke-width="1.5" fill="none"/>
<path d="M120.74 1047.55H127.74M124.24 1044.05V1051.05" stroke="#000" stroke-width="1.4" fill="none"/>
<path d="M139.17 1047.55H146.17M142.67 1044.05V1051.05" stroke="#000" stroke-width="1.4" fill="none"/>
<path d="M157.60 1047.55H164.60M161.10 1044.05V1051.05" stroke="#000" stroke-width="1.4" fill="none"/>
<path d="M176.03 1047.55H183.03M179.53 1044.05V1051.05" stroke="#000" stroke-width="1.4" fill="none"/>
<path d="M229.05 1048.85H233.05" stroke="#000" stroke-width="1.5" fill="none"/>
<path d="M245.98 1047.55H252.98M249.48 1044.05V1051.05" stroke="#000" stroke-width="1.4" fill="none"/>
<path d="M265.91 1048.85H269.91" stroke="#000" stroke-width="1.5" fill="none"/>
<path d="M282.84 1047.55H289.84M286.34 1044.05V1051.05" stroke="#000" stroke-width="1.4" fill="none"/>
<path d="M301.27 1047.55H308.27M304.77 1044.05V1051.05" stroke="#000" stroke-width="1.4" fill="none"/>
<path d="M319.70 1047.55H326.70M323.20 1044.05V1051.05" stroke="#000" stroke-width="1.4" fill="none"/>
<path d="M338.13 1047.55H345.13M341.63 1044.05V1051.05" stroke="#000" stroke-width="1.4" fill="none"/>
<path d="M390.15 1048.85H394.15" stroke="#000" stroke-width="1.5" fill="none"/>
<path d="M407.08 1047.55H414.08M410.58 1044.05V1051.05" stroke="#000" stroke-width="1.4" fill="none"/>
<path d="M427.01 1048.85H431.01" stroke="#000" stroke-width="1.5" fill="none"/>
<path d="M443.94 1047.55H450.94M447.44 1044.05V1051.05" stroke="#000" stroke-width="1.4" fill="none"/>
<path d="M462.37 1047.55H469.37M465.87 1044.05V1051.05" stroke="#000" stroke-width="1.4" fill="none"/>
<path d="M480.80 1047.55H487.80M484.30 1044.05V1051.05" stroke="#000" stroke-width="1.4" fill="none"/>
<path d="M499.23 1047.55H506.23M502.73 1044.05V1051.05" stroke="#000" stroke-width="1.4" fill="none"/>
<text x="7.7" y="1072.00" font-size="14.8" fill="#000">TGF-<tspan font-family="Liberation Serif" font-size="15.5">β</tspan></text>
<path d="M66.95 1068.95H70.95" stroke="#000" stroke-width="1.5" fill="none"/>
<path d="M85.38 1068.95H89.38" stroke="#000" stroke-width="1.5" fill="none"/>
<path d="M102.31 1067.65H109.31M105.81 1064.15V1071.15" stroke="#000" stroke-width="1.4" fill="none"/>
<path d="M120.74 1067.65H127.74M124.24 1064.15V1071.15" stroke="#000" stroke-width="1.4" fill="none"/>
<path d="M139.17 1067.65H146.17M142.67 1064.15V1071.15" stroke="#000" stroke-width="1.4" fill="none"/>
<path d="M157.60 1067.65H164.60M161.10 1064.15V1071.15" stroke="#000" stroke-width="1.4" fill="none"/>
<path d="M176.03 1067.65H183.03M179.53 1064.15V1071.15" stroke="#000" stroke-width="1.4" fill="none"/>
<path d="M229.05 1068.95H233.05" stroke="#000" stroke-width="1.5" fill="none"/>
<path d="M247.48 1068.95H251.48" stroke="#000" stroke-width="1.5" fill="none"/>
<path d="M264.41 1067.65H271.41M267.91 1064.15V1071.15" stroke="#000" stroke-width="1.4" fill="none"/>
<path d="M282.84 1067.65H289.84M286.34 1064.15V1071.15" stroke="#000" stroke-width="1.4" fill="none"/>
<path d="M301.27 1067.65H308.27M304.77 1064.15V1071.15" stroke="#000" stroke-width="1.4" fill="none"/>
<path d="M319.70 1067.65H326.70M323.20 1064.15V1071.15" stroke="#000" stroke-width="1.4" fill="none"/>
<path d="M338.13 1067.65H345.13M341.63 1064.15V1071.15" stroke="#000" stroke-width="1.4" fill="none"/>
<path d="M390.15 1068.95H394.15" stroke="#000" stroke-width="1.5" fill="none"/>
<path d="M408.58 1068.95H412.58" stroke="#000" stroke-width="1.5" fill="none"/>
<path d="M425.51 1067.65H432.51M429.01 1064.15V1071.15" stroke="#000" stroke-width="1.4" fill="none"/>
<path d="M443.94 1067.65H450.94M447.44 1064.15V1071.15" stroke="#000" stroke-width="1.4" fill="none"/>
<path d="M462.37 1067.65H469.37M465.87 1064.15V1071.15" stroke="#000" stroke-width="1.4" fill="none"/>
<path d="M480.80 1067.65H487.80M484.30 1064.15V1071.15" stroke="#000" stroke-width="1.4" fill="none"/>
<path d="M499.23 1067.65H506.23M502.73 1064.15V1071.15" stroke="#000" stroke-width="1.4" fill="none"/>
<text x="7.7" y="1093.00" font-size="14.8" fill="#000">IL-10</text>
<path d="M66.95 1089.05H70.95" stroke="#000" stroke-width="1.5" fill="none"/>
<path d="M85.38 1089.05H89.38" stroke="#000" stroke-width="1.5" fill="none"/>
<path d="M103.81 1089.05H107.81" stroke="#000" stroke-width="1.5" fill="none"/>
<path d="M122.24 1089.05H126.24" stroke="#000" stroke-width="1.5" fill="none"/>
<path d="M139.17 1087.75H146.17M142.67 1084.25V1091.25" stroke="#000" stroke-width="1.4" fill="none"/>
<path d="M159.10 1089.05H163.10" stroke="#000" stroke-width="1.5" fill="none"/>
<path d="M176.03 1087.75H183.03M179.53 1084.25V1091.25" stroke="#000" stroke-width="1.4" fill="none"/>
<path d="M229.05 1089.05H233.05" stroke="#000" stroke-width="1.5" fill="none"/>
<path d="M247.48 1089.05H251.48" stroke="#000" stroke-width="1.5" fill="none"/>
<path d="M265.91 1089.05H269.91" stroke="#000" stroke-width="1.5" fill="none"/>
<path d="M284.34 1089.05H288.34" stroke="#000" stroke-width="1.5" fill="none"/>
<path d="M301.27 1087.75H308.27M304.77 1084.25V1091.25" stroke="#000" stroke-width="1.4" fill="none"/>
<path d="M321.20 1089.05H325.20" stroke="#000" stroke-width="1.5" fill="none"/>
<path d="M338.13 1087.75H345.13M341.63 1084.25V1091.25" stroke="#000" stroke-width="1.4" fill="none"/>
<path d="M390.15 1089.05H394.15" stroke="#000" stroke-width="1.5" fill="none"/>
<path d="M408.58 1089.05H412.58" stroke="#000" stroke-width="1.5" fill="none"/>
<path d="M427.01 1089.05H431.01" stroke="#000" stroke-width="1.5" fill="none"/>
<path d="M445.44 1089.05H449.44" stroke="#000" stroke-width="1.5" fill="none"/>
<path d="M462.37 1087.75H469.37M465.87 1084.25V1091.25" stroke="#000" stroke-width="1.4" fill="none"/>
<path d="M482.30 1089.05H486.30" stroke="#000" stroke-width="1.5" fill="none"/>
<path d="M499.23 1087.75H506.23M502.73 1084.25V1091.25" stroke="#000" stroke-width="1.4" fill="none"/>
<text x="7.7" y="1113.60" font-size="14.8" fill="#000">IL-1<tspan font-family="Liberation Serif" font-size="15.5">β</tspan></text>
<path d="M66.95 1109.15H70.95" stroke="#000" stroke-width="1.5" fill="none"/>
<path d="M85.38 1109.15H89.38" stroke="#000" stroke-width="1.5" fill="none"/>
<path d="M103.81 1109.15H107.81" stroke="#000" stroke-width="1.5" fill="none"/>
<path d="M122.24 1109.15H126.24" stroke="#000" stroke-width="1.5" fill="none"/>
<path d="M140.67 1109.15H144.67" stroke="#000" stroke-width="1.5" fill="none"/>
<path d="M157.60 1107.85H164.60M161.10 1104.35V1111.35" stroke="#000" stroke-width="1.4" fill="none"/>
<path d="M176.03 1107.85H183.03M179.53 1104.35V1111.35" stroke="#000" stroke-width="1.4" fill="none"/>
<path d="M229.05 1109.15H233.05" stroke="#000" stroke-width="1.5" fill="none"/>
<path d="M247.48 1109.15H251.48" stroke="#000" stroke-width="1.5" fill="none"/>
<path d="M265.91 1109.15H269.91" stroke="#000" stroke-width="1.5" fill="none"/>
<path d="M284.34 1109.15H288.34" stroke="#000" stroke-width="1.5" fill="none"/>
<path d="M302.77 1109.15H306.77" stroke="#000" stroke-width="1.5" fill="none"/>
<path d="M319.70 1107.85H326.70M323.20 1104.35V1111.35" stroke="#000" stroke-width="1.4" fill="none"/>
<path d="M338.13 1107.85H345.13M341.63 1104.35V1111.35" stroke="#000" stroke-width="1.4" fill="none"/>
<path d="M390.15 1109.15H394.15" stroke="#000" stroke-width="1.5" fill="none"/>
<path d="M408.58 1109.15H412.58" stroke="#000" stroke-width="1.5" fill="none"/>
<path d="M427.01 1109.15H431.01" stroke="#000" stroke-width="1.5" fill="none"/>
<path d="M445.44 1109.15H449.44" stroke="#000" stroke-width="1.5" fill="none"/>
<path d="M463.87 1109.15H467.87" stroke="#000" stroke-width="1.5" fill="none"/>
<path d="M480.80 1107.85H487.80M484.30 1104.35V1111.35" stroke="#000" stroke-width="1.4" fill="none"/>
<path d="M499.23 1107.85H506.23M502.73 1104.35V1111.35" stroke="#000" stroke-width="1.4" fill="none"/>
<text transform="translate(34.5 966.00) rotate(-90)" font-size="14.8" text-anchor="middle" fill="#000" class="r">IL-9 pos. T cells (%)</text>
</g>
</svg>
</body></html>
